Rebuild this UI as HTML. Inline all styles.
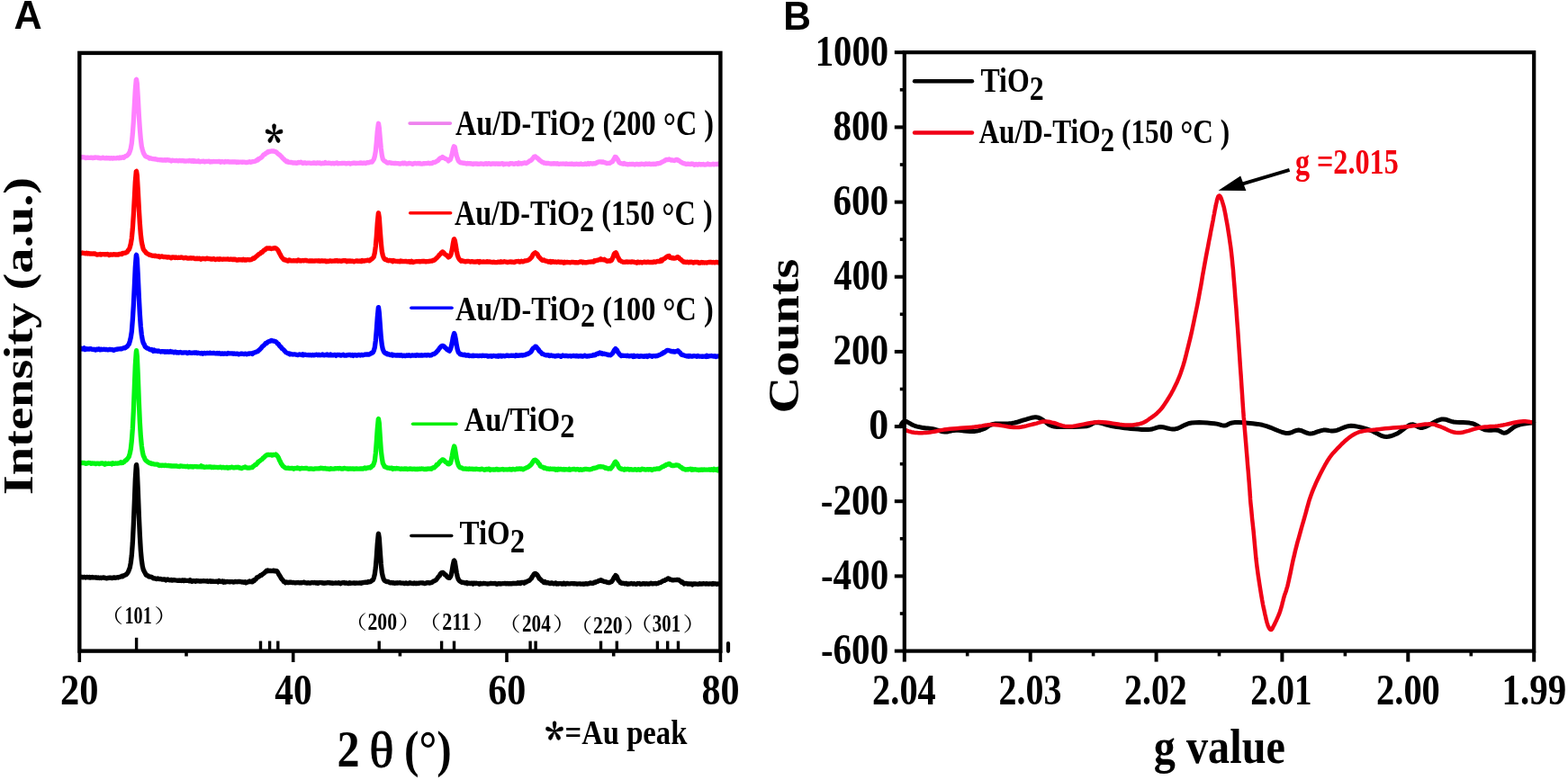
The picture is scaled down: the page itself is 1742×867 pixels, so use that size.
<!DOCTYPE html>
<html><head><meta charset="utf-8"><style>html,body{margin:0;padding:0;background:#fff;}svg{display:block;}</style></head><body>
<svg width="1742" height="867" viewBox="0 0 1742 867">
<rect x="0" y="0" width="1742" height="867" fill="#fff"/>
<path d="M88.3,174.9 L89.3,175.0 L90.3,174.9 L91.3,174.7 L92.3,174.9 L93.3,174.8 L94.3,175.1 L95.3,175.6 L96.3,175.1 L97.3,175.1 L98.3,175.4 L99.3,175.4 L100.3,175.4 L101.3,175.1 L102.3,175.4 L103.3,175.7 L104.3,175.1 L105.3,175.4 L106.3,175.0 L107.3,175.2 L108.3,175.1 L109.3,175.6 L110.3,175.3 L111.3,175.8 L112.3,175.8 L113.3,175.7 L114.3,175.1 L115.3,175.7 L116.3,175.8 L117.3,175.9 L118.3,175.4 L119.3,175.8 L120.3,175.6 L121.3,175.7 L122.3,176.2 L123.3,175.7 L124.3,175.9 L125.3,176.2 L126.3,175.7 L127.3,175.8 L128.3,175.8 L129.3,175.8 L130.3,175.3 L131.3,175.7 L132.3,175.9 L133.3,175.0 L134.3,175.6 L135.3,175.2 L136.3,174.7 L137.3,175.3 L138.3,174.6 L139.3,173.6 L140.3,173.4 L141.3,172.9 L142.3,171.7 L143.3,170.6 L144.3,168.3 L145.3,164.9 L146.3,159.2 L147.3,149.1 L148.3,135.5 L149.3,117.7 L150.3,99.9 L151.3,88.6 L151.6,88.3 L152.3,92.7 L153.3,108.6 L154.3,127.3 L155.3,142.5 L156.3,154.4 L157.3,162.6 L158.3,166.5 L159.3,169.8 L160.3,171.7 L161.3,173.3 L162.3,174.0 L163.3,174.4 L164.3,174.9 L165.3,175.3 L166.3,176.2 L167.3,175.9 L168.3,176.2 L169.3,176.6 L170.3,176.7 L171.3,176.8 L172.3,176.7 L173.3,177.2 L174.3,177.2 L175.3,177.7 L176.3,177.7 L177.3,177.6 L178.3,177.9 L179.3,177.6 L180.3,178.1 L181.3,177.9 L182.3,178.1 L183.3,177.6 L184.3,178.2 L185.3,177.6 L186.3,177.6 L187.3,178.1 L188.3,178.0 L189.3,178.4 L190.3,179.0 L191.3,178.2 L192.3,178.3 L193.3,178.5 L194.3,178.7 L195.3,178.5 L196.3,178.5 L197.3,178.8 L198.3,178.8 L199.3,178.4 L200.3,178.7 L201.3,178.8 L202.3,178.5 L203.3,178.9 L204.3,178.6 L205.3,179.2 L206.3,179.0 L207.3,179.0 L208.3,178.8 L209.3,179.0 L210.3,178.4 L211.3,178.7 L212.3,179.2 L213.3,178.5 L214.3,179.4 L215.3,178.6 L216.3,179.4 L217.3,179.0 L218.3,179.5 L219.3,179.3 L220.3,178.8 L221.3,179.7 L222.3,179.8 L223.3,179.3 L224.3,179.3 L225.3,179.4 L226.3,179.1 L227.3,179.8 L228.3,179.3 L229.3,179.5 L230.3,179.3 L231.3,179.4 L232.3,179.2 L233.3,180.0 L234.3,179.6 L235.3,179.9 L236.3,179.7 L237.3,179.5 L238.3,179.6 L239.3,179.6 L240.3,179.7 L241.3,179.6 L242.3,179.7 L243.3,179.4 L244.3,179.6 L245.3,180.3 L246.3,179.7 L247.3,179.6 L248.3,180.0 L249.3,180.3 L250.3,179.5 L251.3,179.9 L252.3,179.8 L253.3,179.5 L254.3,180.2 L255.3,180.0 L256.3,180.1 L257.3,179.8 L258.3,180.2 L259.3,179.9 L260.3,180.1 L261.3,179.8 L262.3,179.8 L263.3,180.6 L264.3,180.0 L265.3,180.3 L266.3,180.2 L267.3,180.1 L268.3,180.1 L269.3,180.4 L270.3,180.2 L271.3,180.2 L272.3,180.3 L273.3,180.6 L274.3,180.5 L275.3,180.4 L276.3,180.0 L277.3,179.7 L278.3,180.3 L279.3,180.2 L280.3,179.7 L281.3,179.7 L282.3,179.5 L283.3,179.2 L284.3,178.8 L285.3,177.9 L286.3,178.0 L286.7,176.9 L287.3,177.1 L288.3,176.3 L289.3,175.7 L290.3,175.2 L291.3,174.2 L292.3,172.6 L293.3,171.6 L294.3,171.6 L295.3,170.3 L296.3,170.0 L297.3,169.6 L297.4,168.8 L298.3,168.3 L299.3,168.6 L300.3,168.3 L301.3,168.0 L302.3,168.1 L303.3,167.8 L304.3,167.8 L305.3,168.5 L306.3,168.7 L307.3,169.1 L307.5,169.9 L308.3,170.3 L309.3,171.3 L310.3,171.8 L311.3,172.9 L312.3,173.8 L313.3,174.9 L314.3,176.2 L315.3,176.8 L316.3,178.0 L317.3,178.7 L318.3,179.8 L319.3,179.2 L320.3,180.3 L321.3,180.3 L322.3,180.5 L323.3,180.3 L324.3,180.7 L325.3,181.1 L326.3,180.9 L327.3,181.0 L328.3,180.9 L329.3,181.4 L330.3,181.1 L331.3,180.4 L332.3,180.9 L333.3,180.5 L334.3,180.1 L335.3,181.0 L336.3,181.5 L337.3,181.2 L338.3,180.8 L339.3,180.9 L340.3,181.5 L341.3,181.2 L342.3,181.2 L343.3,181.2 L344.3,181.2 L345.3,181.5 L346.3,181.4 L347.3,181.3 L348.3,180.9 L349.3,181.4 L350.3,181.1 L351.3,181.6 L352.3,180.9 L353.3,181.2 L354.3,181.3 L355.3,180.9 L356.3,181.8 L357.3,181.8 L358.3,181.2 L359.3,181.6 L360.3,181.5 L361.3,180.6 L362.3,181.4 L363.3,181.3 L364.3,181.4 L365.3,181.1 L366.3,181.3 L367.3,181.3 L368.3,181.8 L369.3,181.5 L370.3,181.4 L371.3,181.9 L372.3,181.3 L373.3,181.3 L374.3,180.9 L375.3,181.9 L376.3,181.7 L377.3,181.7 L378.3,181.7 L379.3,181.5 L380.3,181.5 L381.3,181.4 L382.3,181.4 L383.3,181.5 L384.3,181.9 L385.3,181.6 L386.3,181.5 L387.3,181.3 L388.3,181.3 L389.3,182.0 L390.3,181.6 L391.3,181.5 L392.3,181.4 L393.3,181.1 L394.3,181.4 L395.3,181.7 L396.3,181.3 L397.3,181.4 L398.3,181.3 L399.3,181.4 L400.3,180.9 L401.3,181.3 L402.3,181.1 L403.3,181.5 L404.3,181.0 L405.3,181.3 L406.3,181.6 L407.3,180.9 L408.3,180.7 L409.3,180.8 L410.3,180.6 L411.3,180.0 L412.3,180.1 L413.3,180.1 L414.3,178.6 L415.3,177.1 L416.3,173.9 L417.3,168.3 L418.3,158.1 L419.3,145.8 L420.3,138.2 L420.5,137.3 L421.3,142.2 L422.3,154.2 L423.3,165.0 L424.3,172.5 L425.3,176.9 L426.3,178.2 L427.3,179.1 L428.3,179.5 L429.3,180.3 L430.3,181.0 L431.3,181.1 L432.3,180.7 L433.3,180.8 L434.3,181.1 L435.3,181.4 L436.3,181.3 L437.3,181.5 L438.3,181.6 L439.3,181.4 L440.3,181.6 L441.3,181.7 L442.3,181.6 L443.3,181.8 L444.3,182.2 L445.3,181.9 L446.3,181.7 L447.3,181.2 L448.3,181.9 L449.3,181.2 L450.3,181.4 L451.3,182.0 L452.3,182.0 L453.3,181.8 L454.3,181.3 L455.3,181.7 L456.3,181.6 L457.3,182.0 L458.3,182.5 L459.3,181.9 L460.3,181.6 L461.3,181.5 L462.3,181.8 L463.3,181.8 L464.3,181.5 L465.3,181.9 L466.3,181.5 L467.3,182.2 L468.3,182.1 L469.3,182.1 L470.3,181.7 L471.3,181.9 L472.3,181.7 L473.3,181.6 L474.3,181.6 L475.3,181.3 L476.3,181.2 L477.3,181.8 L478.3,181.5 L479.3,181.5 L480.3,181.5 L481.3,180.5 L482.3,180.5 L483.3,180.3 L484.3,179.9 L485.3,179.0 L486.3,178.7 L487.3,177.6 L488.3,176.3 L489.3,175.6 L490.3,175.5 L491.3,175.1 L491.6,174.4 L492.3,175.4 L493.3,175.5 L494.3,176.3 L495.3,176.5 L496.3,177.2 L497.3,177.5 L498.3,178.9 L499.3,177.9 L500.3,177.5 L501.3,174.6 L502.3,171.1 L503.3,165.9 L504.3,162.8 L504.6,162.9 L505.3,163.4 L506.3,168.6 L507.3,173.2 L508.3,176.3 L509.3,178.7 L510.3,179.9 L511.3,180.6 L512.3,180.9 L513.3,181.0 L514.3,181.3 L515.3,181.2 L516.3,181.3 L517.3,181.7 L518.3,182.0 L519.3,181.4 L520.3,181.9 L521.3,181.7 L522.3,181.7 L523.3,182.2 L524.3,181.9 L525.3,182.5 L526.3,181.8 L527.3,182.2 L528.3,182.0 L529.3,181.9 L530.3,182.3 L531.3,182.1 L532.3,182.3 L533.3,182.1 L534.3,181.8 L535.3,182.1 L536.3,182.2 L537.3,182.5 L538.3,181.9 L539.3,182.2 L540.3,181.7 L541.3,182.4 L542.3,181.9 L543.3,181.7 L544.3,182.2 L545.3,182.5 L546.3,181.8 L547.3,181.9 L548.3,182.0 L549.3,181.9 L550.3,182.3 L551.3,182.0 L552.3,182.0 L553.3,182.4 L554.3,182.0 L555.3,182.4 L556.3,181.9 L557.3,181.9 L558.3,181.7 L559.3,182.8 L560.3,182.1 L561.3,182.3 L562.3,182.2 L563.3,182.2 L564.3,182.2 L565.3,182.8 L566.3,181.9 L567.3,181.7 L568.3,181.8 L569.3,181.7 L570.3,182.3 L571.3,182.3 L572.3,181.8 L573.3,181.6 L574.3,181.9 L575.3,182.4 L576.3,181.1 L577.3,182.1 L578.3,181.5 L579.3,182.1 L580.3,181.4 L581.3,181.5 L582.3,181.0 L583.3,181.0 L584.3,181.5 L585.3,181.1 L586.3,180.4 L587.3,179.8 L588.3,178.9 L589.3,178.7 L590.3,177.9 L591.3,176.8 L592.3,175.6 L593.3,174.3 L594.3,174.0 L594.7,173.9 L595.3,174.5 L596.3,175.3 L597.3,175.8 L598.3,176.8 L599.3,178.0 L600.3,178.7 L601.3,179.4 L602.3,180.2 L603.3,180.3 L604.3,181.1 L605.3,181.2 L606.3,181.5 L607.3,181.5 L608.3,181.5 L609.3,181.5 L610.3,181.8 L611.3,181.8 L612.3,182.1 L613.3,182.0 L614.3,181.7 L615.3,182.1 L616.3,181.7 L617.3,182.0 L618.3,182.1 L619.3,181.6 L620.3,182.3 L621.3,182.3 L622.3,182.2 L623.3,182.2 L624.3,182.2 L625.3,182.0 L626.3,182.2 L627.3,182.2 L628.3,182.4 L629.3,182.0 L630.3,182.4 L631.3,182.4 L632.3,182.3 L633.3,182.2 L634.3,182.5 L635.3,181.9 L636.3,182.5 L637.3,182.5 L638.3,182.5 L639.3,182.5 L640.3,182.2 L641.3,182.3 L642.3,182.6 L643.3,182.5 L644.3,182.5 L645.3,181.9 L646.3,182.6 L647.3,182.7 L648.3,182.7 L649.3,182.4 L650.3,181.9 L651.3,182.6 L652.3,182.3 L653.3,181.5 L654.3,182.4 L655.3,181.7 L656.3,181.7 L657.3,181.8 L658.3,182.2 L659.3,181.6 L660.3,181.6 L661.3,181.8 L662.3,181.4 L663.3,180.6 L664.3,180.3 L665.3,179.8 L666.3,179.8 L667.3,180.0 L667.5,180.0 L668.3,179.9 L669.3,180.3 L670.3,180.0 L671.3,180.5 L672.3,180.9 L673.3,181.1 L674.3,181.5 L675.3,181.4 L676.3,181.3 L677.3,181.4 L678.3,180.8 L679.3,180.1 L680.3,179.8 L681.3,178.1 L682.3,176.4 L683.3,174.4 L683.9,174.5 L684.3,174.7 L685.3,176.0 L686.3,177.4 L687.3,179.5 L688.3,181.0 L689.3,181.5 L690.3,181.6 L691.3,182.0 L692.3,182.3 L693.3,181.4 L694.3,182.2 L695.3,182.4 L696.3,182.5 L697.3,182.9 L698.3,182.7 L699.3,182.5 L700.3,182.5 L701.3,182.7 L702.3,182.3 L703.3,182.4 L704.3,182.7 L705.3,183.0 L706.3,182.4 L707.3,182.5 L708.3,182.5 L709.3,182.9 L710.3,182.5 L711.3,182.9 L712.3,182.2 L713.3,182.4 L714.3,182.4 L715.3,182.7 L716.3,182.8 L717.3,182.0 L718.3,182.2 L719.3,182.5 L720.3,182.2 L721.3,182.0 L722.3,182.7 L723.3,182.5 L724.3,182.5 L725.3,182.2 L726.3,182.6 L727.3,182.2 L728.3,182.5 L729.3,181.8 L730.3,181.7 L731.3,181.8 L732.3,181.3 L733.3,181.4 L734.3,180.9 L735.3,180.0 L736.3,179.8 L737.3,179.1 L738.3,178.8 L739.3,177.8 L740.3,177.3 L741.3,177.5 L742.2,177.6 L742.3,177.5 L743.3,177.0 L744.3,177.4 L745.3,178.1 L746.3,178.0 L747.3,178.0 L748.3,178.4 L749.3,178.5 L750.3,177.9 L751.3,177.4 L752.3,177.4 L752.9,178.1 L753.3,177.8 L754.3,178.5 L755.3,179.3 L756.3,180.1 L757.3,180.5 L758.3,181.3 L759.3,181.3 L760.3,181.8 L761.3,181.8 L762.3,182.5 L763.3,182.3 L764.3,182.1 L765.3,182.3 L766.3,182.4 L767.3,182.7 L768.3,182.0 L769.3,182.2 L770.3,182.4 L771.3,183.3 L772.3,182.8 L773.3,182.5 L774.3,182.8 L775.3,183.2 L776.3,182.5 L777.3,182.5 L778.3,183.0 L779.3,182.7 L780.3,182.8 L781.3,182.5 L782.3,183.2 L783.3,183.1 L784.3,182.8 L785.3,182.8 L786.3,182.0 L787.3,182.8 L788.3,182.6 L789.3,182.8 L790.3,182.8 L791.3,182.5 L792.3,182.1 L793.3,182.8 L794.3,182.4 L795.3,182.6 L796.3,182.5 L797.3,182.6 L798.3,182.0 L799.3,183.0 L800.3,182.7" fill="none" stroke="#FF80FF" stroke-width="5.3" stroke-linejoin="round" stroke-linecap="butt"/>
<path d="M88.3,281.7 L89.3,282.0 L90.3,281.5 L91.3,281.0 L92.3,281.3 L93.3,281.3 L94.3,281.6 L95.3,281.8 L96.3,281.2 L97.3,282.0 L98.3,281.5 L99.3,282.1 L100.3,282.0 L101.3,282.0 L102.3,282.1 L103.3,282.0 L104.3,282.1 L105.3,281.8 L106.3,282.4 L107.3,283.0 L108.3,283.0 L109.3,282.9 L110.3,282.8 L111.3,282.4 L112.3,283.1 L113.3,282.6 L114.3,282.7 L115.3,282.6 L116.3,282.8 L117.3,282.7 L118.3,282.8 L119.3,282.5 L120.3,282.8 L121.3,283.6 L122.3,282.9 L123.3,282.8 L124.3,283.1 L125.3,283.1 L126.3,282.6 L127.3,282.8 L128.3,283.1 L129.3,282.9 L130.3,282.8 L131.3,283.2 L132.3,282.4 L133.3,282.5 L134.3,282.2 L135.3,282.6 L136.3,281.4 L137.3,281.5 L138.3,281.2 L139.3,281.2 L140.3,280.6 L141.3,280.1 L142.3,278.3 L143.3,277.5 L144.3,274.9 L145.3,271.0 L146.3,265.1 L147.3,254.6 L148.3,239.6 L149.3,221.4 L150.3,201.9 L151.3,190.6 L151.6,190.4 L152.3,194.9 L153.3,211.9 L154.3,231.1 L155.3,247.7 L156.3,260.4 L157.3,268.6 L158.3,273.5 L159.3,277.1 L160.3,278.6 L161.3,279.5 L162.3,281.2 L163.3,281.7 L164.3,282.4 L165.3,282.8 L166.3,283.4 L167.3,283.5 L168.3,284.1 L169.3,284.1 L170.3,284.3 L171.3,284.5 L172.3,284.1 L173.3,284.7 L174.3,284.8 L175.3,285.0 L176.3,284.7 L177.3,285.7 L178.3,285.3 L179.3,285.0 L180.3,285.0 L181.3,285.5 L182.3,285.6 L183.3,285.5 L184.3,285.8 L185.3,285.6 L186.3,286.1 L187.3,285.7 L188.3,286.0 L189.3,286.4 L190.3,286.9 L191.3,285.9 L192.3,286.1 L193.3,286.0 L194.3,286.6 L195.3,286.0 L196.3,286.3 L197.3,286.5 L198.3,286.2 L199.3,286.3 L200.3,286.4 L201.3,286.0 L202.3,286.2 L203.3,286.6 L204.3,286.8 L205.3,286.7 L206.3,286.3 L207.3,286.7 L208.3,287.1 L209.3,287.1 L210.3,287.0 L211.3,286.7 L212.3,287.2 L213.3,286.9 L214.3,286.8 L215.3,286.9 L216.3,287.6 L217.3,287.3 L218.3,287.6 L219.3,287.1 L220.3,287.6 L221.3,287.2 L222.3,287.3 L223.3,288.2 L224.3,287.7 L225.3,287.3 L226.3,287.5 L227.3,287.6 L228.3,287.9 L229.3,287.4 L230.3,287.1 L231.3,287.6 L232.3,287.7 L233.3,287.7 L234.3,288.1 L235.3,287.9 L236.3,288.0 L237.3,287.5 L238.3,288.1 L239.3,288.5 L240.3,288.1 L241.3,288.0 L242.3,288.0 L243.3,288.5 L244.3,287.7 L245.3,288.0 L246.3,288.2 L247.3,288.3 L248.3,288.0 L249.3,288.2 L250.3,288.1 L251.3,288.2 L252.3,288.2 L253.3,287.9 L254.3,288.3 L255.3,288.5 L256.3,288.0 L257.3,288.3 L258.3,288.6 L259.3,288.1 L260.3,288.5 L261.3,288.1 L262.3,288.8 L263.3,289.2 L264.3,289.1 L265.3,288.4 L266.3,288.8 L267.3,288.6 L268.3,288.6 L269.3,289.1 L270.3,288.2 L271.3,289.0 L272.3,288.6 L273.3,289.1 L274.3,288.8 L275.3,288.5 L276.3,288.8 L277.3,288.9 L278.3,288.6 L279.3,288.5 L280.3,287.9 L281.3,287.0 L282.3,287.3 L283.3,286.4 L284.3,285.4 L285.3,284.5 L286.3,283.9 L286.7,283.2 L287.3,282.7 L288.3,282.1 L289.3,281.9 L290.3,280.4 L291.3,280.5 L292.3,279.1 L293.3,278.1 L294.3,277.9 L295.3,276.8 L296.3,275.9 L297.3,275.9 L297.4,276.2 L298.3,276.2 L299.3,275.8 L300.3,276.2 L301.3,276.5 L302.3,276.1 L303.3,276.2 L304.3,275.9 L305.3,275.7 L306.3,275.9 L307.3,276.6 L307.5,276.7 L308.3,277.4 L309.3,278.9 L310.3,281.2 L311.3,282.8 L312.3,284.8 L313.3,286.4 L314.3,287.4 L315.3,288.8 L316.3,288.5 L317.3,289.3 L318.3,289.2 L319.3,290.0 L320.3,290.0 L321.3,288.9 L322.3,289.3 L323.3,289.8 L324.3,289.8 L325.3,289.8 L326.3,289.6 L327.3,289.8 L328.3,289.8 L329.3,289.6 L330.3,290.0 L331.3,289.0 L332.3,289.9 L333.3,289.4 L334.3,290.0 L335.3,289.7 L336.3,289.5 L337.3,289.9 L338.3,289.5 L339.3,289.5 L340.3,289.3 L341.3,289.8 L342.3,290.0 L343.3,290.2 L344.3,289.8 L345.3,290.2 L346.3,289.9 L347.3,289.9 L348.3,290.1 L349.3,290.2 L350.3,289.8 L351.3,289.9 L352.3,289.9 L353.3,290.0 L354.3,289.7 L355.3,290.3 L356.3,289.9 L357.3,290.2 L358.3,289.8 L359.3,290.1 L360.3,290.2 L361.3,289.9 L362.3,290.7 L363.3,290.2 L364.3,290.6 L365.3,290.4 L366.3,289.9 L367.3,290.0 L368.3,290.3 L369.3,290.2 L370.3,290.2 L371.3,290.1 L372.3,289.6 L373.3,290.1 L374.3,289.5 L375.3,290.3 L376.3,290.0 L377.3,290.0 L378.3,290.1 L379.3,290.3 L380.3,289.8 L381.3,289.7 L382.3,289.9 L383.3,289.6 L384.3,289.9 L385.3,290.7 L386.3,289.9 L387.3,290.4 L388.3,289.8 L389.3,290.3 L390.3,290.1 L391.3,290.2 L392.3,290.4 L393.3,290.8 L394.3,290.3 L395.3,290.2 L396.3,289.9 L397.3,290.4 L398.3,290.1 L399.3,290.4 L400.3,290.1 L401.3,290.6 L402.3,289.5 L403.3,289.9 L404.3,290.2 L405.3,289.8 L406.3,289.6 L407.3,289.6 L408.3,289.1 L409.3,289.4 L410.3,289.9 L411.3,289.2 L412.3,288.1 L413.3,287.6 L414.3,286.8 L415.3,285.4 L416.3,281.2 L417.3,274.1 L418.3,262.7 L419.3,247.8 L420.3,237.4 L420.5,236.8 L421.3,241.9 L422.3,256.5 L423.3,269.6 L424.3,279.4 L425.3,283.9 L426.3,286.6 L427.3,288.2 L428.3,288.7 L429.3,288.5 L430.3,289.5 L431.3,289.8 L432.3,289.4 L433.3,289.5 L434.3,289.9 L435.3,289.6 L436.3,290.6 L437.3,289.5 L438.3,290.0 L439.3,290.3 L440.3,290.3 L441.3,290.5 L442.3,290.5 L443.3,290.4 L444.3,290.9 L445.3,289.9 L446.3,290.6 L447.3,290.4 L448.3,290.7 L449.3,290.7 L450.3,290.4 L451.3,290.5 L452.3,290.9 L453.3,290.8 L454.3,290.5 L455.3,291.3 L456.3,291.4 L457.3,290.3 L458.3,290.8 L459.3,291.5 L460.3,291.0 L461.3,290.8 L462.3,290.7 L463.3,290.6 L464.3,290.7 L465.3,290.5 L466.3,290.9 L467.3,290.6 L468.3,290.6 L469.3,290.3 L470.3,290.6 L471.3,290.4 L472.3,290.6 L473.3,290.9 L474.3,290.7 L475.3,290.6 L476.3,290.5 L477.3,290.4 L478.3,290.2 L479.3,290.0 L480.3,290.1 L481.3,289.2 L482.3,289.4 L483.3,288.5 L484.3,287.5 L485.3,286.6 L486.3,285.5 L487.3,284.5 L488.3,283.0 L489.3,282.5 L490.3,281.0 L491.3,280.1 L491.6,280.5 L492.3,280.2 L493.3,281.3 L494.3,282.5 L495.3,283.4 L496.3,283.8 L497.3,284.8 L498.3,286.0 L499.3,285.5 L500.3,284.2 L501.3,281.7 L502.3,277.3 L503.3,270.8 L504.3,266.0 L504.6,265.8 L505.3,267.3 L506.3,272.8 L507.3,278.9 L508.3,283.9 L509.3,286.5 L510.3,288.3 L511.3,289.2 L512.3,290.3 L513.3,289.7 L514.3,290.1 L515.3,290.3 L516.3,290.6 L517.3,290.9 L518.3,290.5 L519.3,290.5 L520.3,290.3 L521.3,290.5 L522.3,291.0 L523.3,290.9 L524.3,290.6 L525.3,290.9 L526.3,291.0 L527.3,291.2 L528.3,290.9 L529.3,291.0 L530.3,290.5 L531.3,290.7 L532.3,291.6 L533.3,290.5 L534.3,291.0 L535.3,291.2 L536.3,291.0 L537.3,290.9 L538.3,291.2 L539.3,291.2 L540.3,291.2 L541.3,290.6 L542.3,291.2 L543.3,291.0 L544.3,291.0 L545.3,291.3 L546.3,291.4 L547.3,291.5 L548.3,291.1 L549.3,291.5 L550.3,291.6 L551.3,291.6 L552.3,291.7 L553.3,291.2 L554.3,291.2 L555.3,291.5 L556.3,290.8 L557.3,291.3 L558.3,291.1 L559.3,291.1 L560.3,290.7 L561.3,291.0 L562.3,291.2 L563.3,291.5 L564.3,291.5 L565.3,291.2 L566.3,291.1 L567.3,290.9 L568.3,291.3 L569.3,291.1 L570.3,291.3 L571.3,291.6 L572.3,291.1 L573.3,290.6 L574.3,290.7 L575.3,290.5 L576.3,290.5 L577.3,291.2 L578.3,290.8 L579.3,290.2 L580.3,290.8 L581.3,290.9 L582.3,290.2 L583.3,289.9 L584.3,289.8 L585.3,289.7 L586.3,289.3 L587.3,289.0 L588.3,288.2 L589.3,287.3 L590.3,286.2 L591.3,284.7 L592.3,282.6 L593.3,281.7 L594.3,281.1 L594.7,280.8 L595.3,281.4 L596.3,281.9 L597.3,283.0 L598.3,285.2 L599.3,286.2 L600.3,287.2 L601.3,288.3 L602.3,289.1 L603.3,289.4 L604.3,288.9 L605.3,289.8 L606.3,290.1 L607.3,290.1 L608.3,290.6 L609.3,291.1 L610.3,290.6 L611.3,290.5 L612.3,291.6 L613.3,290.9 L614.3,290.7 L615.3,291.2 L616.3,291.3 L617.3,291.0 L618.3,291.5 L619.3,291.1 L620.3,291.0 L621.3,291.4 L622.3,291.6 L623.3,291.1 L624.3,291.5 L625.3,291.3 L626.3,292.2 L627.3,291.2 L628.3,291.8 L629.3,291.4 L630.3,291.4 L631.3,291.7 L632.3,291.7 L633.3,291.8 L634.3,291.6 L635.3,291.3 L636.3,291.3 L637.3,291.6 L638.3,291.6 L639.3,291.9 L640.3,291.6 L641.3,291.8 L642.3,291.9 L643.3,291.5 L644.3,291.0 L645.3,291.1 L646.3,291.0 L647.3,291.9 L648.3,291.2 L649.3,291.8 L650.3,291.6 L651.3,291.9 L652.3,291.7 L653.3,291.3 L654.3,291.2 L655.3,291.2 L656.3,291.2 L657.3,290.8 L658.3,290.8 L659.3,291.1 L660.3,289.8 L661.3,290.1 L662.3,289.4 L663.3,289.4 L664.3,289.2 L665.3,288.6 L666.3,288.7 L667.3,287.8 L667.5,288.7 L668.3,288.2 L669.3,288.7 L670.3,288.8 L671.3,288.3 L672.3,289.1 L673.3,289.7 L674.3,290.3 L675.3,290.1 L676.3,290.2 L677.3,289.6 L678.3,290.1 L679.3,289.5 L680.3,287.5 L681.3,285.4 L682.3,282.4 L683.3,281.1 L683.9,281.3 L684.3,280.9 L685.3,283.0 L686.3,285.5 L687.3,287.2 L688.3,289.5 L689.3,289.7 L690.3,290.5 L691.3,290.9 L692.3,291.3 L693.3,291.3 L694.3,291.4 L695.3,291.1 L696.3,291.0 L697.3,291.4 L698.3,291.2 L699.3,291.1 L700.3,291.1 L701.3,291.4 L702.3,291.0 L703.3,291.1 L704.3,291.1 L705.3,291.6 L706.3,291.7 L707.3,292.2 L708.3,291.1 L709.3,291.4 L710.3,291.9 L711.3,291.5 L712.3,291.5 L713.3,292.1 L714.3,291.5 L715.3,291.2 L716.3,291.2 L717.3,291.7 L718.3,291.6 L719.3,291.1 L720.3,291.2 L721.3,291.7 L722.3,291.7 L723.3,291.3 L724.3,291.6 L725.3,291.6 L726.3,290.8 L727.3,291.2 L728.3,291.3 L729.3,290.9 L730.3,290.3 L731.3,290.7 L732.3,290.7 L733.3,290.6 L734.3,289.0 L735.3,289.9 L736.3,288.1 L737.3,288.0 L738.3,287.4 L739.3,286.6 L740.3,285.8 L741.3,285.0 L742.2,285.3 L742.3,284.9 L743.3,284.5 L744.3,286.4 L745.3,286.2 L746.3,286.9 L747.3,286.4 L748.3,287.2 L749.3,287.2 L750.3,287.0 L751.3,286.3 L752.3,285.8 L752.9,286.2 L753.3,285.8 L754.3,286.5 L755.3,287.8 L756.3,288.3 L757.3,289.4 L758.3,290.0 L759.3,291.1 L760.3,291.3 L761.3,291.1 L762.3,291.6 L763.3,291.1 L764.3,291.3 L765.3,291.8 L766.3,291.2 L767.3,291.5 L768.3,291.2 L769.3,291.6 L770.3,292.1 L771.3,291.4 L772.3,291.7 L773.3,291.4 L774.3,291.3 L775.3,291.3 L776.3,292.2 L777.3,292.4 L778.3,291.9 L779.3,291.5 L780.3,292.0 L781.3,291.7 L782.3,292.0 L783.3,291.9 L784.3,291.9 L785.3,292.0 L786.3,291.6 L787.3,291.7 L788.3,291.3 L789.3,291.7 L790.3,291.4 L791.3,291.8 L792.3,291.5 L793.3,291.8 L794.3,291.9 L795.3,291.4 L796.3,291.6 L797.3,291.5 L798.3,292.0 L799.3,292.3 L800.3,292.1" fill="none" stroke="#FF0000" stroke-width="5.3" stroke-linejoin="round" stroke-linecap="butt"/>
<path d="M88.3,387.4 L89.3,388.0 L90.3,387.2 L91.3,388.1 L92.3,387.5 L93.3,386.9 L94.3,388.6 L95.3,388.3 L96.3,387.6 L97.3,388.0 L98.3,387.9 L99.3,388.1 L100.3,387.6 L101.3,387.9 L102.3,388.3 L103.3,388.3 L104.3,388.6 L105.3,388.3 L106.3,389.0 L107.3,388.1 L108.3,388.5 L109.3,387.8 L110.3,388.1 L111.3,388.9 L112.3,388.2 L113.3,388.7 L114.3,388.5 L115.3,388.2 L116.3,388.5 L117.3,388.4 L118.3,388.5 L119.3,388.8 L120.3,388.8 L121.3,388.5 L122.3,388.4 L123.3,388.7 L124.3,388.6 L125.3,388.9 L126.3,389.3 L127.3,388.8 L128.3,388.5 L129.3,388.4 L130.3,388.1 L131.3,388.0 L132.3,387.8 L133.3,387.9 L134.3,387.7 L135.3,387.8 L136.3,387.2 L137.3,387.0 L138.3,386.3 L139.3,386.7 L140.3,385.7 L141.3,385.2 L142.3,383.8 L143.3,382.4 L144.3,379.2 L145.3,375.2 L146.3,368.6 L147.3,356.0 L148.3,340.1 L149.3,319.1 L150.3,296.9 L151.3,283.9 L151.6,283.4 L152.3,288.0 L153.3,307.2 L154.3,329.2 L155.3,348.5 L156.3,362.7 L157.3,372.1 L158.3,377.9 L159.3,381.4 L160.3,383.0 L161.3,385.5 L162.3,386.3 L163.3,386.9 L164.3,387.2 L165.3,387.8 L166.3,388.4 L167.3,388.8 L168.3,388.4 L169.3,389.4 L170.3,390.3 L171.3,389.0 L172.3,390.1 L173.3,390.1 L174.3,390.0 L175.3,390.6 L176.3,390.0 L177.3,390.5 L178.3,391.0 L179.3,390.6 L180.3,390.6 L181.3,390.8 L182.3,390.7 L183.3,391.4 L184.3,390.7 L185.3,391.3 L186.3,390.7 L187.3,391.4 L188.3,391.2 L189.3,390.5 L190.3,391.3 L191.3,391.0 L192.3,391.3 L193.3,391.9 L194.3,391.2 L195.3,391.2 L196.3,392.0 L197.3,391.7 L198.3,392.1 L199.3,391.8 L200.3,391.5 L201.3,391.8 L202.3,392.2 L203.3,392.1 L204.3,391.9 L205.3,391.9 L206.3,391.9 L207.3,391.8 L208.3,392.6 L209.3,392.1 L210.3,391.7 L211.3,392.0 L212.3,392.4 L213.3,392.4 L214.3,392.2 L215.3,392.0 L216.3,392.3 L217.3,391.8 L218.3,391.9 L219.3,392.6 L220.3,392.2 L221.3,392.5 L222.3,392.8 L223.3,392.6 L224.3,392.5 L225.3,393.2 L226.3,392.7 L227.3,392.4 L228.3,392.8 L229.3,392.7 L230.3,392.4 L231.3,392.7 L232.3,392.6 L233.3,392.1 L234.3,392.7 L235.3,392.7 L236.3,392.6 L237.3,392.3 L238.3,392.7 L239.3,392.8 L240.3,392.9 L241.3,392.5 L242.3,393.1 L243.3,392.5 L244.3,392.9 L245.3,393.4 L246.3,392.8 L247.3,392.9 L248.3,393.4 L249.3,392.9 L250.3,393.0 L251.3,393.2 L252.3,393.4 L253.3,392.5 L254.3,392.9 L255.3,392.9 L256.3,392.9 L257.3,392.9 L258.3,393.0 L259.3,393.3 L260.3,393.0 L261.3,393.3 L262.3,393.4 L263.3,393.1 L264.3,393.4 L265.3,393.9 L266.3,393.5 L267.3,393.2 L268.3,393.4 L269.3,393.1 L270.3,393.5 L271.3,393.7 L272.3,393.2 L273.3,393.4 L274.3,393.8 L275.3,393.2 L276.3,393.4 L277.3,392.9 L278.3,392.9 L279.3,392.9 L280.3,393.5 L281.3,392.4 L282.3,392.1 L283.3,391.7 L284.3,391.3 L285.3,391.0 L286.3,390.2 L286.7,390.4 L287.3,389.4 L288.3,389.0 L289.3,387.7 L290.3,386.8 L291.3,385.2 L292.3,384.6 L293.3,383.7 L294.3,382.7 L295.3,381.3 L296.3,381.4 L297.3,380.3 L297.4,380.2 L298.3,379.8 L299.3,379.4 L300.3,379.2 L301.3,378.5 L302.3,378.6 L303.3,379.0 L304.3,379.2 L305.3,379.4 L306.3,379.8 L307.3,380.4 L307.5,380.8 L308.3,381.9 L309.3,382.2 L310.3,384.1 L311.3,385.1 L312.3,385.9 L313.3,387.5 L314.3,388.0 L315.3,389.0 L316.3,390.1 L317.3,391.3 L318.3,392.0 L319.3,392.5 L320.3,393.1 L321.3,392.8 L322.3,393.9 L323.3,393.5 L324.3,393.8 L325.3,394.0 L326.3,393.8 L327.3,393.8 L328.3,394.0 L329.3,394.3 L330.3,394.5 L331.3,394.5 L332.3,394.0 L333.3,394.1 L334.3,394.1 L335.3,394.5 L336.3,393.8 L337.3,394.8 L338.3,394.2 L339.3,394.2 L340.3,394.5 L341.3,394.7 L342.3,394.5 L343.3,394.8 L344.3,394.5 L345.3,394.8 L346.3,394.9 L347.3,394.5 L348.3,394.9 L349.3,394.6 L350.3,394.5 L351.3,394.2 L352.3,394.4 L353.3,394.8 L354.3,394.2 L355.3,394.8 L356.3,394.7 L357.3,394.7 L358.3,393.9 L359.3,394.6 L360.3,394.8 L361.3,394.4 L362.3,394.6 L363.3,393.9 L364.3,394.8 L365.3,394.4 L366.3,394.9 L367.3,394.1 L368.3,394.9 L369.3,394.6 L370.3,394.9 L371.3,394.4 L372.3,394.5 L373.3,395.4 L374.3,394.5 L375.3,394.5 L376.3,394.6 L377.3,394.4 L378.3,395.1 L379.3,395.2 L380.3,394.5 L381.3,394.2 L382.3,395.1 L383.3,395.1 L384.3,395.0 L385.3,395.1 L386.3,394.5 L387.3,394.7 L388.3,394.3 L389.3,394.3 L390.3,395.0 L391.3,394.5 L392.3,395.4 L393.3,394.7 L394.3,394.5 L395.3,394.9 L396.3,395.2 L397.3,394.8 L398.3,394.3 L399.3,394.7 L400.3,395.0 L401.3,394.4 L402.3,394.3 L403.3,394.8 L404.3,394.5 L405.3,394.0 L406.3,394.2 L407.3,393.9 L408.3,394.1 L409.3,393.9 L410.3,394.0 L411.3,393.5 L412.3,392.5 L413.3,392.5 L414.3,391.7 L415.3,389.8 L416.3,386.3 L417.3,378.8 L418.3,366.9 L419.3,352.8 L420.3,342.3 L420.5,341.6 L421.3,347.7 L422.3,361.4 L423.3,374.9 L424.3,383.4 L425.3,388.2 L426.3,390.6 L427.3,392.0 L428.3,392.9 L429.3,392.6 L430.3,393.9 L431.3,393.5 L432.3,393.8 L433.3,394.5 L434.3,394.4 L435.3,394.0 L436.3,395.1 L437.3,394.4 L438.3,394.8 L439.3,394.8 L440.3,395.2 L441.3,394.7 L442.3,395.2 L443.3,394.7 L444.3,395.3 L445.3,394.7 L446.3,394.9 L447.3,395.6 L448.3,395.1 L449.3,395.1 L450.3,395.7 L451.3,395.2 L452.3,394.8 L453.3,395.3 L454.3,394.7 L455.3,395.4 L456.3,395.5 L457.3,394.9 L458.3,394.9 L459.3,395.2 L460.3,395.1 L461.3,394.8 L462.3,395.3 L463.3,394.5 L464.3,395.0 L465.3,395.0 L466.3,395.0 L467.3,395.2 L468.3,394.7 L469.3,395.2 L470.3,395.0 L471.3,394.8 L472.3,394.6 L473.3,394.6 L474.3,395.0 L475.3,394.5 L476.3,394.8 L477.3,395.0 L478.3,394.9 L479.3,394.8 L480.3,394.0 L481.3,393.4 L482.3,393.6 L483.3,392.7 L484.3,392.1 L485.3,390.8 L486.3,389.9 L487.3,388.5 L488.3,387.2 L489.3,385.9 L490.3,384.9 L491.3,384.4 L491.6,384.3 L492.3,384.6 L493.3,384.8 L494.3,386.4 L495.3,386.9 L496.3,388.3 L497.3,388.9 L498.3,389.5 L499.3,390.2 L500.3,388.4 L501.3,385.4 L502.3,380.9 L503.3,375.0 L504.3,371.4 L504.6,370.5 L505.3,372.2 L506.3,377.3 L507.3,383.9 L508.3,388.6 L509.3,391.7 L510.3,392.5 L511.3,393.7 L512.3,394.1 L513.3,394.0 L514.3,394.5 L515.3,394.6 L516.3,394.1 L517.3,395.1 L518.3,395.1 L519.3,394.9 L520.3,394.7 L521.3,395.6 L522.3,395.3 L523.3,395.5 L524.3,395.7 L525.3,395.1 L526.3,395.6 L527.3,395.3 L528.3,395.3 L529.3,395.4 L530.3,395.4 L531.3,395.7 L532.3,395.5 L533.3,395.4 L534.3,395.4 L535.3,395.6 L536.3,395.2 L537.3,395.3 L538.3,395.5 L539.3,395.3 L540.3,395.5 L541.3,395.3 L542.3,396.1 L543.3,395.9 L544.3,395.7 L545.3,395.5 L546.3,396.2 L547.3,395.6 L548.3,395.5 L549.3,395.6 L550.3,395.6 L551.3,396.0 L552.3,395.5 L553.3,396.2 L554.3,395.3 L555.3,395.8 L556.3,395.2 L557.3,396.1 L558.3,395.4 L559.3,395.5 L560.3,395.8 L561.3,395.9 L562.3,395.2 L563.3,395.4 L564.3,395.1 L565.3,395.5 L566.3,395.4 L567.3,395.4 L568.3,395.2 L569.3,395.3 L570.3,395.2 L571.3,395.5 L572.3,395.8 L573.3,394.7 L574.3,395.3 L575.3,395.1 L576.3,395.3 L577.3,394.9 L578.3,395.0 L579.3,394.7 L580.3,395.1 L581.3,394.8 L582.3,394.6 L583.3,394.5 L584.3,394.1 L585.3,393.4 L586.3,393.6 L587.3,393.0 L588.3,392.2 L589.3,391.6 L590.3,390.5 L591.3,388.5 L592.3,387.2 L593.3,386.6 L594.3,385.9 L594.7,385.1 L595.3,385.1 L596.3,386.2 L597.3,387.5 L598.3,388.6 L599.3,390.4 L600.3,391.1 L601.3,392.0 L602.3,393.3 L603.3,393.4 L604.3,394.0 L605.3,394.5 L606.3,394.8 L607.3,394.6 L608.3,394.9 L609.3,394.7 L610.3,395.6 L611.3,395.4 L612.3,394.9 L613.3,395.3 L614.3,395.6 L615.3,395.5 L616.3,396.0 L617.3,395.9 L618.3,395.3 L619.3,395.5 L620.3,395.2 L621.3,395.6 L622.3,395.6 L623.3,396.4 L624.3,395.7 L625.3,395.0 L626.3,395.5 L627.3,395.7 L628.3,395.3 L629.3,395.4 L630.3,395.6 L631.3,395.8 L632.3,395.7 L633.3,395.5 L634.3,396.0 L635.3,395.6 L636.3,395.6 L637.3,395.3 L638.3,395.5 L639.3,395.9 L640.3,395.3 L641.3,395.7 L642.3,396.0 L643.3,395.6 L644.3,395.8 L645.3,395.4 L646.3,396.1 L647.3,396.1 L648.3,395.8 L649.3,395.2 L650.3,395.4 L651.3,396.0 L652.3,396.2 L653.3,395.7 L654.3,395.9 L655.3,395.3 L656.3,395.3 L657.3,395.3 L658.3,395.2 L659.3,394.4 L660.3,394.9 L661.3,394.7 L662.3,393.6 L663.3,393.2 L664.3,393.4 L665.3,392.8 L666.3,392.0 L667.3,392.9 L667.5,392.7 L668.3,392.5 L669.3,393.5 L670.3,393.1 L671.3,393.2 L672.3,393.7 L673.3,393.7 L674.3,394.0 L675.3,394.6 L676.3,394.4 L677.3,394.4 L678.3,394.8 L679.3,394.0 L680.3,393.0 L681.3,391.4 L682.3,389.5 L683.3,388.3 L683.9,387.5 L684.3,388.3 L685.3,388.9 L686.3,391.1 L687.3,392.4 L688.3,393.9 L689.3,394.8 L690.3,395.5 L691.3,395.1 L692.3,395.4 L693.3,395.4 L694.3,395.4 L695.3,395.3 L696.3,395.7 L697.3,395.2 L698.3,395.8 L699.3,395.8 L700.3,395.6 L701.3,395.5 L702.3,395.4 L703.3,396.4 L704.3,395.4 L705.3,396.3 L706.3,396.0 L707.3,395.7 L708.3,395.5 L709.3,396.1 L710.3,396.4 L711.3,395.6 L712.3,395.7 L713.3,396.1 L714.3,395.9 L715.3,396.4 L716.3,395.6 L717.3,396.0 L718.3,395.4 L719.3,396.4 L720.3,395.6 L721.3,395.1 L722.3,395.7 L723.3,395.7 L724.3,396.3 L725.3,395.6 L726.3,395.6 L727.3,395.7 L728.3,395.9 L729.3,395.3 L730.3,395.5 L731.3,395.1 L732.3,394.6 L733.3,394.3 L734.3,393.9 L735.3,393.0 L736.3,393.0 L737.3,391.6 L738.3,391.6 L739.3,390.8 L740.3,389.9 L741.3,389.3 L742.2,389.3 L742.3,389.5 L743.3,389.7 L744.3,389.8 L745.3,390.5 L746.3,390.4 L747.3,390.9 L748.3,390.5 L749.3,391.2 L750.3,390.8 L751.3,390.4 L752.3,390.7 L752.9,390.7 L753.3,389.8 L754.3,391.2 L755.3,391.6 L756.3,393.2 L757.3,394.4 L758.3,394.1 L759.3,394.8 L760.3,395.0 L761.3,395.5 L762.3,395.7 L763.3,396.0 L764.3,395.4 L765.3,396.2 L766.3,395.5 L767.3,395.9 L768.3,396.2 L769.3,396.1 L770.3,395.6 L771.3,395.7 L772.3,395.8 L773.3,395.9 L774.3,396.3 L775.3,395.5 L776.3,396.1 L777.3,396.1 L778.3,396.1 L779.3,396.1 L780.3,396.4 L781.3,396.1 L782.3,396.2 L783.3,396.2 L784.3,396.5 L785.3,395.4 L786.3,396.4 L787.3,395.9 L788.3,395.9 L789.3,395.7 L790.3,395.5 L791.3,395.9 L792.3,395.8 L793.3,396.2 L794.3,395.6 L795.3,396.5 L796.3,396.1 L797.3,396.0 L798.3,395.8 L799.3,395.8 L800.3,395.7" fill="none" stroke="#0000FF" stroke-width="5.3" stroke-linejoin="round" stroke-linecap="butt"/>
<path d="M88.3,514.4 L89.3,514.7 L90.3,514.6 L91.3,514.3 L92.3,514.7 L93.3,514.5 L94.3,514.9 L95.3,515.4 L96.3,515.1 L97.3,514.9 L98.3,514.5 L99.3,514.6 L100.3,514.6 L101.3,515.3 L102.3,514.9 L103.3,515.2 L104.3,515.0 L105.3,515.2 L106.3,515.7 L107.3,515.1 L108.3,515.2 L109.3,515.1 L110.3,515.6 L111.3,515.1 L112.3,515.0 L113.3,515.0 L114.3,515.0 L115.3,515.6 L116.3,516.2 L117.3,515.1 L118.3,515.7 L119.3,515.5 L120.3,515.1 L121.3,515.3 L122.3,515.3 L123.3,515.2 L124.3,515.9 L125.3,514.7 L126.3,515.4 L127.3,515.3 L128.3,515.0 L129.3,515.1 L130.3,515.2 L131.3,514.9 L132.3,514.8 L133.3,514.7 L134.3,513.7 L135.3,514.5 L136.3,514.4 L137.3,513.6 L138.3,513.2 L139.3,511.8 L140.3,511.5 L141.3,510.3 L142.3,509.0 L143.3,507.5 L144.3,503.9 L145.3,499.0 L146.3,489.9 L147.3,476.9 L148.3,457.3 L149.3,431.9 L150.3,406.1 L151.3,391.4 L151.6,389.7 L152.3,395.9 L153.3,418.2 L154.3,445.3 L155.3,468.4 L156.3,484.6 L157.3,495.3 L158.3,502.1 L159.3,506.6 L160.3,508.5 L161.3,510.9 L162.3,512.1 L163.3,512.7 L164.3,513.6 L165.3,514.2 L166.3,514.9 L167.3,514.6 L168.3,515.6 L169.3,515.4 L170.3,515.6 L171.3,516.0 L172.3,516.2 L173.3,516.1 L174.3,516.1 L175.3,516.4 L176.3,517.2 L177.3,517.5 L178.3,517.2 L179.3,517.5 L180.3,517.1 L181.3,517.3 L182.3,517.5 L183.3,517.1 L184.3,517.2 L185.3,517.6 L186.3,517.6 L187.3,517.4 L188.3,517.9 L189.3,517.7 L190.3,518.2 L191.3,517.9 L192.3,517.9 L193.3,518.0 L194.3,518.0 L195.3,517.9 L196.3,518.0 L197.3,518.4 L198.3,518.4 L199.3,518.6 L200.3,517.8 L201.3,518.2 L202.3,518.2 L203.3,518.4 L204.3,518.3 L205.3,518.3 L206.3,518.7 L207.3,518.6 L208.3,518.2 L209.3,519.0 L210.3,518.9 L211.3,518.5 L212.3,518.9 L213.3,518.5 L214.3,519.1 L215.3,518.7 L216.3,518.5 L217.3,518.7 L218.3,518.6 L219.3,518.9 L220.3,518.9 L221.3,518.9 L222.3,518.8 L223.3,517.9 L224.3,519.0 L225.3,518.4 L226.3,519.1 L227.3,519.4 L228.3,519.2 L229.3,519.0 L230.3,519.1 L231.3,519.1 L232.3,519.0 L233.3,519.0 L234.3,518.9 L235.3,519.6 L236.3,519.2 L237.3,519.6 L238.3,519.2 L239.3,519.3 L240.3,519.3 L241.3,519.5 L242.3,519.6 L243.3,519.5 L244.3,519.2 L245.3,519.2 L246.3,519.9 L247.3,519.4 L248.3,519.4 L249.3,519.9 L250.3,519.8 L251.3,519.7 L252.3,519.4 L253.3,520.3 L254.3,519.7 L255.3,519.8 L256.3,519.6 L257.3,519.2 L258.3,519.3 L259.3,519.8 L260.3,519.8 L261.3,519.6 L262.3,519.4 L263.3,519.3 L264.3,519.7 L265.3,519.3 L266.3,520.1 L267.3,520.2 L268.3,520.7 L269.3,520.1 L270.3,519.7 L271.3,519.6 L272.3,518.9 L273.3,519.7 L274.3,519.9 L275.3,520.2 L276.3,520.1 L277.3,520.0 L278.3,519.8 L279.3,519.7 L280.3,519.6 L281.3,518.3 L282.3,517.8 L283.3,516.7 L284.3,516.6 L285.3,515.5 L286.3,514.4 L286.7,513.4 L287.3,513.4 L288.3,512.5 L289.3,511.8 L290.3,511.0 L291.3,510.4 L292.3,509.1 L293.3,508.5 L294.3,507.4 L295.3,506.4 L296.3,505.8 L297.3,505.4 L297.4,505.8 L298.3,505.4 L299.3,505.6 L300.3,505.6 L301.3,505.4 L302.3,506.1 L303.3,505.4 L304.3,505.7 L305.3,505.5 L306.3,505.0 L307.3,505.8 L307.5,506.2 L308.3,507.0 L309.3,508.6 L310.3,511.1 L311.3,512.9 L312.3,515.1 L313.3,516.5 L314.3,518.1 L315.3,518.7 L316.3,519.6 L317.3,520.2 L318.3,520.3 L319.3,520.3 L320.3,520.1 L321.3,520.6 L322.3,520.6 L323.3,520.5 L324.3,520.3 L325.3,520.7 L326.3,521.3 L327.3,520.5 L328.3,520.7 L329.3,520.7 L330.3,519.9 L331.3,520.7 L332.3,520.4 L333.3,521.1 L334.3,520.6 L335.3,520.4 L336.3,520.6 L337.3,520.7 L338.3,520.5 L339.3,520.7 L340.3,520.3 L341.3,520.7 L342.3,521.0 L343.3,521.3 L344.3,521.0 L345.3,520.8 L346.3,521.1 L347.3,521.1 L348.3,521.3 L349.3,521.1 L350.3,520.8 L351.3,520.9 L352.3,520.9 L353.3,520.9 L354.3,520.9 L355.3,520.6 L356.3,520.2 L357.3,520.7 L358.3,520.3 L359.3,520.9 L360.3,520.9 L361.3,520.4 L362.3,521.1 L363.3,521.2 L364.3,520.9 L365.3,521.4 L366.3,521.5 L367.3,520.6 L368.3,521.2 L369.3,521.1 L370.3,521.1 L371.3,521.2 L372.3,520.7 L373.3,520.8 L374.3,520.7 L375.3,520.7 L376.3,520.9 L377.3,520.5 L378.3,520.7 L379.3,521.2 L380.3,521.0 L381.3,521.1 L382.3,520.4 L383.3,520.7 L384.3,520.8 L385.3,521.0 L386.3,520.8 L387.3,521.3 L388.3,521.0 L389.3,521.0 L390.3,521.0 L391.3,521.2 L392.3,520.8 L393.3,521.3 L394.3,521.1 L395.3,521.0 L396.3,520.9 L397.3,521.1 L398.3,521.2 L399.3,521.1 L400.3,520.9 L401.3,521.1 L402.3,520.8 L403.3,521.1 L404.3,520.6 L405.3,519.9 L406.3,520.9 L407.3,520.4 L408.3,519.9 L409.3,520.0 L410.3,519.5 L411.3,520.1 L412.3,519.2 L413.3,518.0 L414.3,517.6 L415.3,515.4 L416.3,512.3 L417.3,504.0 L418.3,491.3 L419.3,476.5 L420.3,466.0 L420.5,465.6 L421.3,470.5 L422.3,486.2 L423.3,500.6 L424.3,508.8 L425.3,514.8 L426.3,516.7 L427.3,518.9 L428.3,519.0 L429.3,519.4 L430.3,520.1 L431.3,520.2 L432.3,520.1 L433.3,520.6 L434.3,520.4 L435.3,520.1 L436.3,521.4 L437.3,520.7 L438.3,520.7 L439.3,521.1 L440.3,520.5 L441.3,520.6 L442.3,520.9 L443.3,520.9 L444.3,521.2 L445.3,521.5 L446.3,521.0 L447.3,521.3 L448.3,521.4 L449.3,520.9 L450.3,521.3 L451.3,521.0 L452.3,521.6 L453.3,521.4 L454.3,521.3 L455.3,520.9 L456.3,521.3 L457.3,521.1 L458.3,521.5 L459.3,521.3 L460.3,521.1 L461.3,521.6 L462.3,521.5 L463.3,521.1 L464.3,521.6 L465.3,521.2 L466.3,521.2 L467.3,521.3 L468.3,521.0 L469.3,521.1 L470.3,521.2 L471.3,521.7 L472.3,521.6 L473.3,521.1 L474.3,521.6 L475.3,521.0 L476.3,521.1 L477.3,521.2 L478.3,520.9 L479.3,521.3 L480.3,520.4 L481.3,519.7 L482.3,519.9 L483.3,518.8 L484.3,518.1 L485.3,516.3 L486.3,516.4 L487.3,515.1 L488.3,513.8 L489.3,512.7 L490.3,512.1 L491.3,511.1 L491.6,511.3 L492.3,510.9 L493.3,511.6 L494.3,512.8 L495.3,513.7 L496.3,514.2 L497.3,515.5 L498.3,515.9 L499.3,515.6 L500.3,514.9 L501.3,511.8 L502.3,506.7 L503.3,500.9 L504.3,497.3 L504.6,496.0 L505.3,498.0 L506.3,503.9 L507.3,510.1 L508.3,514.1 L509.3,517.3 L510.3,518.9 L511.3,519.9 L512.3,519.9 L513.3,520.1 L514.3,521.0 L515.3,521.2 L516.3,521.1 L517.3,520.9 L518.3,521.3 L519.3,521.2 L520.3,521.5 L521.3,520.9 L522.3,521.4 L523.3,521.3 L524.3,521.1 L525.3,521.5 L526.3,521.5 L527.3,521.4 L528.3,521.6 L529.3,521.1 L530.3,521.5 L531.3,521.7 L532.3,521.7 L533.3,521.9 L534.3,521.3 L535.3,521.2 L536.3,521.7 L537.3,521.8 L538.3,522.3 L539.3,521.8 L540.3,521.4 L541.3,521.9 L542.3,521.4 L543.3,521.2 L544.3,522.5 L545.3,521.8 L546.3,521.9 L547.3,521.9 L548.3,522.2 L549.3,521.8 L550.3,522.1 L551.3,521.4 L552.3,521.3 L553.3,522.1 L554.3,522.1 L555.3,521.8 L556.3,521.8 L557.3,521.7 L558.3,521.5 L559.3,522.1 L560.3,521.9 L561.3,521.8 L562.3,521.8 L563.3,522.0 L564.3,521.8 L565.3,521.9 L566.3,521.3 L567.3,521.8 L568.3,522.2 L569.3,521.4 L570.3,521.5 L571.3,521.8 L572.3,521.8 L573.3,521.6 L574.3,520.9 L575.3,521.5 L576.3,521.0 L577.3,521.0 L578.3,521.4 L579.3,521.0 L580.3,521.3 L581.3,521.8 L582.3,521.0 L583.3,520.8 L584.3,520.0 L585.3,519.8 L586.3,519.2 L587.3,518.8 L588.3,517.9 L589.3,517.1 L590.3,516.1 L591.3,514.5 L592.3,512.9 L593.3,511.6 L594.3,511.4 L594.7,511.2 L595.3,511.6 L596.3,512.5 L597.3,513.4 L598.3,515.2 L599.3,515.9 L600.3,518.2 L601.3,518.7 L602.3,519.0 L603.3,519.3 L604.3,520.2 L605.3,519.8 L606.3,520.4 L607.3,521.0 L608.3,521.0 L609.3,520.9 L610.3,521.5 L611.3,521.0 L612.3,521.4 L613.3,521.3 L614.3,521.2 L615.3,521.7 L616.3,521.3 L617.3,522.2 L618.3,521.4 L619.3,522.2 L620.3,521.3 L621.3,521.9 L622.3,521.4 L623.3,521.3 L624.3,521.8 L625.3,522.0 L626.3,521.4 L627.3,522.1 L628.3,521.6 L629.3,521.9 L630.3,521.9 L631.3,522.0 L632.3,521.3 L633.3,522.3 L634.3,522.0 L635.3,521.7 L636.3,521.6 L637.3,521.4 L638.3,521.5 L639.3,522.0 L640.3,521.8 L641.3,521.5 L642.3,521.7 L643.3,522.3 L644.3,521.8 L645.3,521.7 L646.3,522.3 L647.3,522.0 L648.3,521.9 L649.3,521.6 L650.3,521.3 L651.3,521.4 L652.3,521.6 L653.3,521.7 L654.3,521.8 L655.3,521.8 L656.3,521.6 L657.3,521.4 L658.3,520.9 L659.3,520.3 L660.3,520.5 L661.3,520.1 L662.3,519.9 L663.3,519.6 L664.3,519.0 L665.3,518.7 L666.3,518.8 L667.3,518.7 L667.5,518.5 L668.3,518.9 L669.3,518.8 L670.3,518.8 L671.3,519.5 L672.3,520.3 L673.3,519.9 L674.3,520.7 L675.3,520.9 L676.3,521.1 L677.3,520.4 L678.3,521.0 L679.3,519.8 L680.3,518.7 L681.3,517.0 L682.3,515.3 L683.3,513.5 L683.9,513.2 L684.3,513.8 L685.3,514.8 L686.3,516.7 L687.3,519.0 L688.3,520.2 L689.3,521.1 L690.3,520.8 L691.3,521.7 L692.3,521.7 L693.3,522.2 L694.3,521.3 L695.3,521.8 L696.3,521.7 L697.3,521.3 L698.3,521.6 L699.3,522.2 L700.3,521.7 L701.3,521.7 L702.3,522.2 L703.3,522.2 L704.3,522.2 L705.3,521.7 L706.3,521.9 L707.3,522.3 L708.3,521.8 L709.3,521.7 L710.3,522.2 L711.3,522.4 L712.3,521.6 L713.3,521.2 L714.3,521.5 L715.3,521.6 L716.3,521.9 L717.3,522.1 L718.3,521.9 L719.3,521.7 L720.3,522.0 L721.3,521.6 L722.3,521.9 L723.3,521.7 L724.3,522.6 L725.3,522.0 L726.3,521.5 L727.3,521.4 L728.3,521.5 L729.3,521.0 L730.3,521.1 L731.3,520.9 L732.3,521.2 L733.3,520.4 L734.3,519.9 L735.3,519.2 L736.3,518.7 L737.3,518.4 L738.3,517.6 L739.3,517.4 L740.3,516.3 L741.3,516.4 L742.2,516.0 L742.3,515.9 L743.3,515.4 L744.3,515.9 L745.3,516.9 L746.3,517.5 L747.3,517.4 L748.3,517.7 L749.3,517.3 L750.3,517.1 L751.3,516.8 L752.3,517.2 L752.9,517.1 L753.3,517.1 L754.3,517.6 L755.3,518.6 L756.3,519.3 L757.3,519.7 L758.3,521.0 L759.3,521.1 L760.3,521.3 L761.3,522.0 L762.3,522.0 L763.3,521.7 L764.3,522.0 L765.3,521.5 L766.3,521.7 L767.3,521.2 L768.3,522.3 L769.3,521.4 L770.3,522.2 L771.3,521.8 L772.3,521.7 L773.3,522.0 L774.3,522.1 L775.3,522.2 L776.3,522.6 L777.3,522.2 L778.3,522.3 L779.3,521.9 L780.3,522.3 L781.3,522.1 L782.3,522.0 L783.3,522.1 L784.3,522.1 L785.3,522.2 L786.3,522.2 L787.3,522.0 L788.3,521.9 L789.3,522.4 L790.3,521.6 L791.3,522.0 L792.3,522.6 L793.3,521.3 L794.3,521.9 L795.3,522.4 L796.3,521.7 L797.3,522.9 L798.3,521.4 L799.3,522.6 L800.3,522.6" fill="none" stroke="#02F512" stroke-width="5.3" stroke-linejoin="round" stroke-linecap="butt"/>
<path d="M88.3,641.7 L89.3,641.4 L90.3,641.6 L91.3,641.3 L92.3,641.8 L93.3,641.3 L94.3,641.6 L95.3,642.0 L96.3,641.4 L97.3,641.7 L98.3,641.9 L99.3,641.4 L100.3,642.2 L101.3,642.0 L102.3,641.5 L103.3,642.0 L104.3,641.8 L105.3,641.8 L106.3,642.1 L107.3,641.9 L108.3,642.4 L109.3,641.9 L110.3,642.5 L111.3,642.2 L112.3,642.5 L113.3,642.1 L114.3,642.1 L115.3,641.9 L116.3,642.4 L117.3,642.5 L118.3,642.9 L119.3,642.7 L120.3,642.3 L121.3,642.2 L122.3,642.4 L123.3,642.2 L124.3,642.6 L125.3,642.4 L126.3,641.9 L127.3,641.8 L128.3,642.4 L129.3,642.0 L130.3,641.7 L131.3,642.0 L132.3,641.4 L133.3,641.3 L134.3,641.0 L135.3,640.3 L136.3,640.8 L137.3,639.8 L138.3,639.5 L139.3,638.9 L140.3,638.6 L141.3,637.3 L142.3,636.0 L143.3,633.5 L144.3,630.9 L145.3,625.4 L146.3,617.4 L147.3,603.8 L148.3,583.9 L149.3,559.3 L150.3,533.0 L151.3,517.5 L151.6,516.6 L152.3,522.6 L153.3,545.3 L154.3,571.9 L155.3,594.1 L156.3,611.6 L157.3,622.5 L158.3,629.4 L159.3,633.3 L160.3,635.3 L161.3,637.0 L162.3,639.1 L163.3,639.6 L164.3,639.8 L165.3,641.0 L166.3,641.2 L167.3,641.2 L168.3,641.4 L169.3,641.9 L170.3,642.8 L171.3,642.9 L172.3,643.0 L173.3,643.4 L174.3,643.6 L175.3,642.9 L176.3,643.6 L177.3,643.6 L178.3,643.5 L179.3,643.9 L180.3,644.1 L181.3,644.1 L182.3,643.8 L183.3,644.2 L184.3,645.0 L185.3,644.2 L186.3,644.0 L187.3,644.7 L188.3,644.8 L189.3,644.9 L190.3,644.4 L191.3,645.1 L192.3,644.6 L193.3,644.6 L194.3,644.8 L195.3,645.0 L196.3,645.2 L197.3,645.3 L198.3,645.1 L199.3,645.4 L200.3,645.2 L201.3,645.5 L202.3,644.8 L203.3,644.8 L204.3,645.6 L205.3,644.9 L206.3,645.3 L207.3,645.4 L208.3,645.3 L209.3,645.4 L210.3,645.9 L211.3,644.8 L212.3,645.8 L213.3,646.3 L214.3,645.6 L215.3,645.7 L216.3,645.9 L217.3,646.3 L218.3,645.4 L219.3,645.8 L220.3,645.7 L221.3,646.0 L222.3,645.9 L223.3,646.1 L224.3,645.8 L225.3,645.9 L226.3,645.7 L227.3,645.8 L228.3,645.9 L229.3,646.0 L230.3,645.7 L231.3,646.5 L232.3,646.0 L233.3,645.7 L234.3,646.5 L235.3,645.9 L236.3,646.3 L237.3,646.2 L238.3,646.3 L239.3,646.3 L240.3,646.1 L241.3,646.3 L242.3,646.9 L243.3,645.6 L244.3,646.3 L245.3,646.5 L246.3,646.1 L247.3,646.0 L248.3,647.1 L249.3,646.3 L250.3,647.1 L251.3,646.6 L252.3,646.5 L253.3,646.6 L254.3,646.7 L255.3,646.9 L256.3,646.7 L257.3,646.6 L258.3,646.6 L259.3,647.0 L260.3,646.9 L261.3,646.3 L262.3,646.5 L263.3,646.8 L264.3,646.5 L265.3,646.6 L266.3,646.4 L267.3,646.7 L268.3,646.9 L269.3,647.1 L270.3,646.8 L271.3,647.4 L272.3,646.8 L273.3,647.8 L274.3,647.1 L275.3,647.0 L276.3,646.7 L277.3,645.9 L278.3,646.6 L279.3,646.6 L280.3,646.8 L281.3,645.3 L282.3,645.7 L283.3,644.3 L284.3,643.8 L285.3,641.9 L286.3,641.9 L286.7,641.4 L287.3,641.3 L288.3,640.5 L289.3,639.5 L290.3,639.5 L291.3,638.6 L292.3,637.8 L293.3,637.1 L294.3,636.3 L295.3,635.2 L296.3,634.3 L297.3,634.0 L297.4,634.8 L298.3,634.5 L299.3,634.4 L300.3,634.4 L301.3,634.7 L302.3,634.7 L303.3,634.4 L304.3,634.1 L305.3,634.9 L306.3,634.5 L307.3,634.7 L307.5,634.7 L308.3,635.7 L309.3,637.6 L310.3,639.3 L311.3,640.8 L312.3,642.6 L313.3,644.0 L314.3,644.9 L315.3,646.5 L316.3,646.8 L317.3,647.8 L318.3,647.0 L319.3,647.3 L320.3,647.7 L321.3,647.4 L322.3,647.1 L323.3,647.2 L324.3,647.5 L325.3,647.6 L326.3,647.5 L327.3,647.8 L328.3,647.9 L329.3,647.7 L330.3,647.6 L331.3,647.5 L332.3,647.8 L333.3,647.9 L334.3,647.6 L335.3,647.8 L336.3,647.5 L337.3,647.2 L338.3,647.4 L339.3,647.9 L340.3,647.8 L341.3,648.2 L342.3,647.7 L343.3,648.0 L344.3,648.1 L345.3,648.0 L346.3,647.5 L347.3,647.7 L348.3,647.8 L349.3,647.5 L350.3,647.9 L351.3,648.1 L352.3,647.6 L353.3,648.4 L354.3,647.7 L355.3,647.7 L356.3,647.7 L357.3,647.6 L358.3,648.0 L359.3,647.8 L360.3,648.3 L361.3,648.0 L362.3,648.0 L363.3,647.8 L364.3,647.4 L365.3,647.8 L366.3,647.6 L367.3,648.2 L368.3,647.9 L369.3,648.4 L370.3,648.1 L371.3,648.2 L372.3,648.0 L373.3,648.0 L374.3,648.1 L375.3,648.2 L376.3,647.7 L377.3,648.1 L378.3,648.7 L379.3,647.9 L380.3,647.9 L381.3,647.7 L382.3,647.5 L383.3,648.3 L384.3,648.0 L385.3,648.0 L386.3,648.5 L387.3,648.7 L388.3,647.7 L389.3,648.3 L390.3,648.1 L391.3,648.1 L392.3,648.1 L393.3,647.9 L394.3,648.4 L395.3,648.1 L396.3,648.0 L397.3,648.2 L398.3,648.1 L399.3,648.0 L400.3,647.9 L401.3,648.3 L402.3,647.9 L403.3,647.6 L404.3,647.4 L405.3,647.4 L406.3,647.1 L407.3,647.4 L408.3,647.3 L409.3,646.4 L410.3,646.8 L411.3,646.7 L412.3,646.1 L413.3,645.1 L414.3,644.8 L415.3,642.4 L416.3,638.4 L417.3,631.1 L418.3,619.3 L419.3,604.2 L420.3,593.9 L420.5,593.3 L421.3,598.2 L422.3,613.2 L423.3,627.0 L424.3,636.4 L425.3,640.9 L426.3,644.0 L427.3,645.4 L428.3,645.9 L429.3,646.5 L430.3,646.5 L431.3,646.6 L432.3,647.1 L433.3,647.8 L434.3,647.8 L435.3,647.5 L436.3,648.1 L437.3,647.7 L438.3,648.3 L439.3,648.1 L440.3,647.8 L441.3,648.2 L442.3,647.8 L443.3,647.8 L444.3,647.7 L445.3,648.2 L446.3,648.1 L447.3,648.1 L448.3,648.1 L449.3,648.6 L450.3,648.1 L451.3,648.0 L452.3,648.6 L453.3,648.7 L454.3,648.3 L455.3,647.7 L456.3,648.1 L457.3,648.4 L458.3,648.3 L459.3,648.7 L460.3,647.9 L461.3,648.5 L462.3,648.1 L463.3,648.6 L464.3,648.2 L465.3,648.5 L466.3,648.0 L467.3,647.8 L468.3,647.9 L469.3,648.0 L470.3,647.9 L471.3,648.5 L472.3,648.5 L473.3,648.2 L474.3,647.7 L475.3,647.9 L476.3,647.7 L477.3,648.2 L478.3,647.7 L479.3,647.6 L480.3,647.1 L481.3,646.2 L482.3,646.0 L483.3,645.2 L484.3,644.8 L485.3,643.6 L486.3,642.1 L487.3,640.8 L488.3,640.0 L489.3,637.9 L490.3,636.9 L491.3,636.6 L491.6,636.4 L492.3,636.6 L493.3,637.5 L494.3,638.9 L495.3,639.0 L496.3,640.7 L497.3,641.7 L498.3,642.4 L499.3,642.4 L500.3,641.3 L501.3,638.9 L502.3,633.7 L503.3,627.8 L504.3,623.4 L504.6,623.1 L505.3,624.5 L506.3,630.7 L507.3,636.7 L508.3,641.4 L509.3,644.2 L510.3,645.5 L511.3,646.4 L512.3,646.8 L513.3,647.4 L514.3,647.4 L515.3,647.5 L516.3,648.0 L517.3,648.2 L518.3,647.6 L519.3,648.7 L520.3,648.2 L521.3,648.2 L522.3,648.6 L523.3,648.4 L524.3,648.2 L525.3,649.1 L526.3,648.1 L527.3,648.4 L528.3,648.7 L529.3,648.2 L530.3,648.5 L531.3,648.7 L532.3,649.3 L533.3,648.3 L534.3,648.6 L535.3,648.8 L536.3,648.6 L537.3,648.3 L538.3,648.7 L539.3,648.7 L540.3,648.8 L541.3,649.0 L542.3,649.0 L543.3,648.8 L544.3,648.7 L545.3,648.3 L546.3,648.6 L547.3,648.7 L548.3,648.5 L549.3,648.7 L550.3,648.4 L551.3,649.1 L552.3,649.3 L553.3,648.6 L554.3,648.8 L555.3,648.6 L556.3,649.0 L557.3,648.8 L558.3,648.7 L559.3,648.6 L560.3,648.7 L561.3,648.3 L562.3,648.8 L563.3,648.4 L564.3,648.8 L565.3,648.6 L566.3,648.9 L567.3,648.6 L568.3,648.9 L569.3,648.3 L570.3,648.7 L571.3,648.4 L572.3,648.5 L573.3,648.4 L574.3,648.7 L575.3,647.7 L576.3,648.4 L577.3,647.8 L578.3,648.5 L579.3,647.5 L580.3,647.6 L581.3,647.3 L582.3,648.1 L583.3,647.0 L584.3,647.2 L585.3,646.6 L586.3,645.8 L587.3,645.6 L588.3,645.1 L589.3,643.9 L590.3,643.0 L591.3,641.1 L592.3,639.7 L593.3,638.1 L594.3,637.5 L594.7,637.9 L595.3,637.6 L596.3,638.5 L597.3,639.7 L598.3,641.3 L599.3,643.4 L600.3,643.8 L601.3,644.8 L602.3,645.8 L603.3,646.3 L604.3,647.5 L605.3,646.5 L606.3,647.6 L607.3,647.9 L608.3,647.5 L609.3,647.8 L610.3,648.3 L611.3,648.7 L612.3,648.0 L613.3,647.9 L614.3,648.7 L615.3,648.9 L616.3,648.4 L617.3,647.9 L618.3,649.0 L619.3,648.6 L620.3,649.0 L621.3,648.7 L622.3,648.6 L623.3,648.6 L624.3,649.2 L625.3,649.2 L626.3,648.1 L627.3,648.5 L628.3,649.3 L629.3,648.7 L630.3,648.4 L631.3,648.8 L632.3,648.8 L633.3,648.8 L634.3,648.7 L635.3,648.7 L636.3,648.7 L637.3,648.9 L638.3,648.6 L639.3,648.8 L640.3,648.8 L641.3,649.2 L642.3,649.0 L643.3,648.8 L644.3,649.0 L645.3,649.0 L646.3,649.2 L647.3,649.0 L648.3,649.4 L649.3,649.2 L650.3,648.8 L651.3,648.6 L652.3,649.0 L653.3,648.9 L654.3,648.6 L655.3,648.1 L656.3,647.9 L657.3,648.4 L658.3,648.4 L659.3,648.1 L660.3,647.2 L661.3,647.6 L662.3,646.7 L663.3,646.6 L664.3,646.2 L665.3,645.5 L666.3,645.4 L667.3,644.8 L667.5,645.1 L668.3,644.9 L669.3,645.8 L670.3,645.9 L671.3,646.5 L672.3,646.7 L673.3,646.7 L674.3,647.3 L675.3,647.3 L676.3,647.7 L677.3,647.6 L678.3,647.0 L679.3,646.6 L680.3,645.5 L681.3,643.7 L682.3,641.9 L683.3,640.5 L683.9,639.5 L684.3,639.8 L685.3,640.8 L686.3,643.7 L687.3,645.4 L688.3,646.2 L689.3,647.7 L690.3,648.3 L691.3,648.1 L692.3,648.4 L693.3,648.3 L694.3,648.9 L695.3,648.3 L696.3,648.7 L697.3,649.4 L698.3,648.8 L699.3,649.0 L700.3,648.8 L701.3,648.5 L702.3,648.9 L703.3,649.0 L704.3,648.6 L705.3,649.0 L706.3,649.3 L707.3,649.3 L708.3,648.5 L709.3,648.7 L710.3,648.5 L711.3,649.3 L712.3,649.1 L713.3,649.2 L714.3,648.7 L715.3,648.6 L716.3,649.0 L717.3,649.0 L718.3,648.7 L719.3,649.0 L720.3,649.1 L721.3,649.0 L722.3,648.6 L723.3,648.2 L724.3,648.8 L725.3,648.9 L726.3,648.7 L727.3,648.6 L728.3,648.4 L729.3,648.8 L730.3,648.4 L731.3,648.3 L732.3,647.7 L733.3,647.5 L734.3,647.3 L735.3,646.5 L736.3,645.8 L737.3,645.5 L738.3,645.3 L739.3,644.4 L740.3,644.3 L741.3,643.5 L742.2,643.3 L742.3,642.9 L743.3,643.3 L744.3,644.1 L745.3,644.1 L746.3,644.6 L747.3,644.9 L748.3,644.8 L749.3,644.7 L750.3,644.6 L751.3,644.6 L752.3,644.4 L752.9,644.5 L753.3,644.5 L754.3,644.7 L755.3,645.6 L756.3,646.1 L757.3,647.4 L758.3,647.0 L759.3,648.0 L760.3,649.1 L761.3,648.5 L762.3,648.3 L763.3,648.8 L764.3,649.2 L765.3,648.8 L766.3,649.1 L767.3,649.0 L768.3,648.8 L769.3,649.9 L770.3,649.0 L771.3,648.9 L772.3,648.9 L773.3,649.2 L774.3,649.2 L775.3,649.3 L776.3,649.1 L777.3,648.6 L778.3,649.2 L779.3,649.0 L780.3,649.0 L781.3,648.7 L782.3,648.9 L783.3,648.9 L784.3,649.1 L785.3,648.7 L786.3,649.1 L787.3,649.2 L788.3,648.8 L789.3,648.9 L790.3,648.9 L791.3,649.4 L792.3,648.4 L793.3,649.0 L794.3,648.7 L795.3,649.0 L796.3,649.4 L797.3,649.0 L798.3,649.2 L799.3,648.9 L800.3,649.7" fill="none" stroke="#000000" stroke-width="5.3" stroke-linejoin="round" stroke-linecap="butt"/>
<rect x="88.3" y="58.9" width="712.1" height="664.7" fill="none" stroke="#000" stroke-width="4.4"/>
<line x1="88.3" y1="723.6" x2="88.3" y2="736" stroke="#000" stroke-width="3.6"/>
<line x1="325.7" y1="723.6" x2="325.7" y2="736" stroke="#000" stroke-width="3.6"/>
<line x1="563.0" y1="723.6" x2="563.0" y2="736" stroke="#000" stroke-width="3.6"/>
<line x1="800.4" y1="723.6" x2="800.4" y2="736" stroke="#000" stroke-width="3.6"/>
<line x1="207.0" y1="723.6" x2="207.0" y2="729.5" stroke="#000" stroke-width="3.6"/>
<line x1="444.4" y1="723.6" x2="444.4" y2="729.5" stroke="#000" stroke-width="3.6"/>
<line x1="681.7" y1="723.6" x2="681.7" y2="729.5" stroke="#000" stroke-width="3.6"/>
<line x1="151.6" y1="723.6" x2="151.6" y2="708.8" stroke="#000" stroke-width="3.4"/>
<line x1="289.5" y1="723.6" x2="289.5" y2="712.5" stroke="#000" stroke-width="3.4"/>
<line x1="299.6" y1="723.6" x2="299.6" y2="712.5" stroke="#000" stroke-width="3.4"/>
<line x1="308.8" y1="723.6" x2="308.8" y2="712.5" stroke="#000" stroke-width="3.4"/>
<line x1="421.2" y1="723.6" x2="421.2" y2="712.5" stroke="#000" stroke-width="3.4"/>
<line x1="490.6" y1="723.6" x2="490.6" y2="712.5" stroke="#000" stroke-width="3.4"/>
<line x1="504.5" y1="723.6" x2="504.5" y2="712.5" stroke="#000" stroke-width="3.4"/>
<line x1="589.1" y1="723.6" x2="589.1" y2="712.5" stroke="#000" stroke-width="3.4"/>
<line x1="595.1" y1="723.6" x2="595.1" y2="712.5" stroke="#000" stroke-width="3.4"/>
<line x1="667.5" y1="723.6" x2="667.5" y2="712.5" stroke="#000" stroke-width="3.4"/>
<line x1="685.3" y1="723.6" x2="685.3" y2="712.5" stroke="#000" stroke-width="3.4"/>
<line x1="730.4" y1="723.6" x2="730.4" y2="712.5" stroke="#000" stroke-width="3.4"/>
<line x1="741.7" y1="723.6" x2="741.7" y2="712.5" stroke="#000" stroke-width="3.4"/>
<line x1="753.5" y1="723.6" x2="753.5" y2="712.5" stroke="#000" stroke-width="3.4"/>
<line x1="809" y1="715" x2="809" y2="723.8" stroke="#000" stroke-width="4.2" stroke-linecap="round"/>
<text transform="translate(15.60,32.40) scale(1.0034,1.0448)" font-family="'Liberation Sans', Arial, sans-serif" font-weight="bold" font-size="43" fill="#000" >A</text>
<text transform="translate(66.93,783.20) scale(0.8841,1.0188)" font-family="'Liberation Serif', 'Times New Roman', serif" font-weight="bold" font-size="48" fill="#000" >20</text>
<text transform="translate(305.14,783.20) scale(0.8644,1.0188)" font-family="'Liberation Serif', 'Times New Roman', serif" font-weight="bold" font-size="48" fill="#000" >40</text>
<text transform="translate(542.25,783.20) scale(0.8773,1.0188)" font-family="'Liberation Serif', 'Times New Roman', serif" font-weight="bold" font-size="48" fill="#000" >60</text>
<text transform="translate(779.55,783.20) scale(0.8773,1.0188)" font-family="'Liberation Serif', 'Times New Roman', serif" font-weight="bold" font-size="48" fill="#000" >80</text>
<text transform="translate(36.44,550.36) rotate(-90) scale(1.1312,0.9326)" font-family="'Liberation Serif', 'Times New Roman', serif" font-weight="bold" font-size="50" fill="#000">Intensity (a.u.)</text>
<text transform="translate(374.44,852.10) scale(0.8792,1.0079)" font-family="'Liberation Serif', 'Times New Roman', serif" font-weight="bold" font-size="57" fill="#000" >2</text>
<text transform="translate(410.20,851.74) scale(1.0000,0.9610)" font-family="'Liberation Serif', 'Times New Roman', serif" font-weight="normal" font-size="57" fill="#000" stroke="#000" stroke-width="0.9">θ</text>
<text transform="translate(448.96,852.11) scale(0.8679,0.9824)" font-family="'Liberation Serif', 'Times New Roman', serif" font-weight="bold" font-size="57" fill="#000" >(°)</text>
<text transform="translate(605.74,841.17) scale(0.7560,0.8440)" font-family="'Noto Serif CJK SC', 'Noto Sans CJK SC', serif" font-weight="bold" font-size="56" fill="#000" stroke="#000" stroke-width="0.7">*</text>
<text transform="translate(627.60,826.70) scale(0.8494,1.0000)" font-family="'Liberation Serif', 'Times New Roman', serif" font-weight="bold" font-size="38.5" fill="#000" >=Au peak</text>
<text transform="translate(294.14,177.16) scale(0.7560,0.8480)" font-family="'Noto Serif CJK SC', 'Noto Sans CJK SC', serif" font-weight="bold" font-size="56" fill="#000" stroke="#000" stroke-width="0.7">*</text>
<line x1="455.09999999999997" y1="137.1" x2="500.40000000000003" y2="137.1" stroke="#EE82EE" stroke-width="3.6" stroke-linecap="round"/>
<text transform="translate(506.00,149.90) scale(0.8278,1.0000)" font-family="'Liberation Serif', 'Times New Roman', serif" font-weight="bold" font-size="39" fill="#000" >Au/D-TiO<tspan dy="6.6">2</tspan><tspan dy="-6.6"> (200 <tspan font-size="43" dy="3.6">°</tspan><tspan dy="-3.6">C</tspan> )</tspan></text>
<line x1="455.7" y1="236.8" x2="500.6" y2="236.8" stroke="#FF0000" stroke-width="3.6" stroke-linecap="round"/>
<text transform="translate(504.90,250.20) scale(0.8270,1.0000)" font-family="'Liberation Serif', 'Times New Roman', serif" font-weight="bold" font-size="39" fill="#000" >Au/D-TiO<tspan dy="6.6">2</tspan><tspan dy="-6.6"> (150 <tspan font-size="43" dy="3.6">°</tspan><tspan dy="-3.6">C</tspan> )</tspan></text>
<line x1="456.9" y1="342.3" x2="502.0" y2="342.3" stroke="#0000FF" stroke-width="3.6" stroke-linecap="round"/>
<text transform="translate(506.00,356.30) scale(0.8264,1.0000)" font-family="'Liberation Serif', 'Times New Roman', serif" font-weight="bold" font-size="39" fill="#000" >Au/D-TiO<tspan dy="6.6">2</tspan><tspan dy="-6.6"> (100 <tspan font-size="43" dy="3.6">°</tspan><tspan dy="-3.6">C</tspan> )</tspan></text>
<line x1="458.59999999999997" y1="471.2" x2="506.90000000000003" y2="471.2" stroke="#00EE00" stroke-width="3.6" stroke-linecap="round"/>
<text transform="translate(515.70,479.20) scale(0.8372,1.0000)" font-family="'Liberation Serif', 'Times New Roman', serif" font-weight="bold" font-size="39" fill="#000" >Au/TiO<tspan dy="6.5">2</tspan></text>
<line x1="456.9" y1="595.5" x2="501.7" y2="595.5" stroke="#000000" stroke-width="3.6" stroke-linecap="round"/>
<text transform="translate(510.56,604.70) scale(0.8446,1.0000)" font-family="'Liberation Serif', 'Times New Roman', serif" font-weight="bold" font-size="39" fill="#000" >TiO<tspan dy="8.9">2</tspan></text>
<text transform="translate(138.44,693.00) scale(0.7778,1.0235)" font-family="'Liberation Serif', 'Times New Roman', serif" font-weight="bold" font-size="26" fill="#000" >101</text>
<text transform="translate(111.49,692.06) scale(0.9714,0.8208)" font-family="'Noto Serif CJK SC', 'Noto Sans CJK SC', serif" font-weight="normal" font-size="26" fill="#000" >（</text>
<text transform="translate(171.46,692.06) scale(0.9714,0.8208)" font-family="'Noto Serif CJK SC', 'Noto Sans CJK SC', serif" font-weight="normal" font-size="26" fill="#000" >）</text>
<text transform="translate(408.46,700.00) scale(0.8378,1.0176)" font-family="'Liberation Serif', 'Times New Roman', serif" font-weight="bold" font-size="26" fill="#000" >200</text>
<text transform="translate(382.49,699.07) scale(0.9714,0.8167)" font-family="'Noto Serif CJK SC', 'Noto Sans CJK SC', serif" font-weight="normal" font-size="26" fill="#000" >（</text>
<text transform="translate(442.56,699.07) scale(0.9714,0.8167)" font-family="'Noto Serif CJK SC', 'Noto Sans CJK SC', serif" font-weight="normal" font-size="26" fill="#000" >）</text>
<text transform="translate(491.15,699.60) scale(0.8457,1.0118)" font-family="'Liberation Serif', 'Times New Roman', serif" font-weight="bold" font-size="26" fill="#000" >211</text>
<text transform="translate(464.39,698.68) scale(0.9714,0.8125)" font-family="'Noto Serif CJK SC', 'Noto Sans CJK SC', serif" font-weight="normal" font-size="26" fill="#000" >（</text>
<text transform="translate(525.26,698.68) scale(0.9714,0.8125)" font-family="'Noto Serif CJK SC', 'Noto Sans CJK SC', serif" font-weight="normal" font-size="26" fill="#000" >）</text>
<text transform="translate(579.98,702.00) scale(0.8158,1.0471)" font-family="'Liberation Serif', 'Times New Roman', serif" font-weight="bold" font-size="26" fill="#000" >204</text>
<text transform="translate(553.29,701.03) scale(0.9714,0.8375)" font-family="'Noto Serif CJK SC', 'Noto Sans CJK SC', serif" font-weight="normal" font-size="26" fill="#000" >（</text>
<text transform="translate(614.06,701.03) scale(0.9714,0.8375)" font-family="'Noto Serif CJK SC', 'Noto Sans CJK SC', serif" font-weight="normal" font-size="26" fill="#000" >）</text>
<text transform="translate(659.06,703.80) scale(0.8351,1.0412)" font-family="'Liberation Serif', 'Times New Roman', serif" font-weight="bold" font-size="26" fill="#000" >220</text>
<text transform="translate(632.69,702.83) scale(0.9714,0.8333)" font-family="'Noto Serif CJK SC', 'Noto Sans CJK SC', serif" font-weight="normal" font-size="26" fill="#000" >（</text>
<text transform="translate(692.76,702.83) scale(0.9714,0.8333)" font-family="'Noto Serif CJK SC', 'Noto Sans CJK SC', serif" font-weight="normal" font-size="26" fill="#000" >）</text>
<text transform="translate(724.80,701.50) scale(0.8027,1.0471)" font-family="'Liberation Serif', 'Times New Roman', serif" font-weight="bold" font-size="26" fill="#000" >301</text>
<text transform="translate(698.99,700.53) scale(0.9714,0.8375)" font-family="'Noto Serif CJK SC', 'Noto Sans CJK SC', serif" font-weight="normal" font-size="26" fill="#000" >（</text>
<text transform="translate(758.66,700.53) scale(0.9714,0.8375)" font-family="'Noto Serif CJK SC', 'Noto Sans CJK SC', serif" font-weight="normal" font-size="26" fill="#000" >）</text>
<path d="M1000.5,473.6 L1000.9,472.9 L1001.4,471.8 L1002.1,470.6 L1002.9,469.4 L1003.9,468.6 L1005.0,468.2 L1006.4,468.4 L1008.1,469.1 L1009.9,470.1 L1011.8,471.2 L1013.7,472.2 L1015.5,473.0 L1017.2,473.6 L1018.9,474.1 L1020.7,474.5 L1022.4,474.9 L1024.1,475.3 L1025.8,475.6 L1027.5,475.8 L1029.1,476.0 L1030.8,476.1 L1032.5,476.2 L1034.3,476.4 L1036.2,476.7 L1038.3,477.2 L1040.5,477.8 L1042.8,478.5 L1045.1,479.2 L1047.4,479.7 L1049.6,480.0 L1051.7,480.0 L1053.6,479.7 L1055.5,479.2 L1057.4,478.8 L1059.6,478.4 L1062.0,478.2 L1064.8,478.3 L1068.0,478.6 L1071.3,479.0 L1074.6,479.3 L1077.8,479.6 L1080.6,479.6 L1083.0,479.4 L1085.3,479.0 L1087.3,478.6 L1089.3,478.0 L1091.1,477.4 L1093.0,476.7 L1094.7,475.9 L1096.2,475.0 L1097.6,474.0 L1099.2,473.0 L1101.0,472.2 L1103.3,471.5 L1106.2,471.1 L1109.6,471.0 L1113.3,470.9 L1117.1,470.9 L1120.7,470.8 L1124.0,470.5 L1126.9,470.0 L1129.7,469.3 L1132.4,468.5 L1134.9,467.7 L1137.3,466.9 L1139.5,466.3 L1141.6,465.7 L1143.4,465.2 L1145.2,464.7 L1146.8,464.2 L1148.3,463.9 L1149.8,463.8 L1151.1,463.8 L1152.3,463.9 L1153.4,464.2 L1154.5,464.6 L1155.7,465.1 L1157.0,465.8 L1158.5,466.8 L1160.1,468.0 L1161.9,469.4 L1163.7,470.8 L1165.5,472.1 L1167.4,473.0 L1169.2,473.6 L1170.9,474.0 L1172.7,474.3 L1174.7,474.5 L1177.1,474.5 L1180.0,474.6 L1183.8,474.6 L1188.4,474.6 L1193.4,474.5 L1198.4,474.3 L1203.0,474.1 L1206.7,473.7 L1209.4,473.1 L1211.4,472.3 L1213.0,471.3 L1214.5,470.5 L1216.1,469.9 L1218.1,469.6 L1220.6,469.8 L1223.3,470.4 L1226.2,471.1 L1229.1,472.0 L1232.1,472.8 L1235.0,473.5 L1237.8,474.0 L1240.6,474.5 L1243.4,474.9 L1246.3,475.3 L1249.4,475.7 L1252.6,476.0 L1256.2,476.4 L1260.2,476.8 L1264.3,477.1 L1268.3,477.4 L1272.1,477.6 L1275.5,477.6 L1278.3,477.3 L1280.7,476.7 L1282.8,476.1 L1284.9,475.4 L1287.0,474.8 L1289.3,474.6 L1291.8,474.8 L1294.4,475.3 L1297.1,476.0 L1299.8,476.6 L1302.6,477.0 L1305.4,476.9 L1308.3,476.2 L1311.1,475.0 L1314.0,473.6 L1317.1,472.1 L1320.3,470.8 L1323.8,470.0 L1327.8,469.7 L1332.2,469.6 L1336.8,469.8 L1341.4,470.1 L1345.5,470.4 L1349.0,470.7 L1351.7,471.1 L1353.8,471.6 L1355.6,472.1 L1357.2,472.6 L1358.7,472.9 L1360.5,473.0 L1362.2,472.7 L1363.6,472.1 L1365.1,471.3 L1366.8,470.5 L1369.0,469.9 L1372.0,469.6 L1376.0,469.6 L1380.9,469.8 L1386.2,470.2 L1391.8,470.7 L1397.3,471.4 L1402.3,472.3 L1407.0,473.6 L1411.7,475.3 L1416.2,477.2 L1420.6,479.0 L1424.6,480.5 L1428.2,481.4 L1431.3,481.5 L1433.9,481.0 L1436.3,480.1 L1438.4,479.1 L1440.5,478.4 L1442.7,478.1 L1444.9,478.4 L1447.1,479.2 L1449.1,480.1 L1451.2,481.0 L1453.4,481.7 L1455.6,482.0 L1458.0,481.7 L1460.4,481.1 L1462.9,480.2 L1465.4,479.3 L1467.8,478.6 L1470.2,478.1 L1472.4,478.0 L1474.4,478.2 L1476.5,478.6 L1478.5,478.9 L1480.7,479.0 L1483.1,478.8 L1485.7,478.1 L1488.6,477.0 L1491.5,475.8 L1494.5,474.6 L1497.7,473.7 L1500.9,473.3 L1504.3,473.5 L1507.8,474.1 L1511.5,474.9 L1515.1,475.9 L1518.6,477.0 L1521.9,478.1 L1524.9,479.3 L1527.7,480.7 L1530.4,482.1 L1533.0,483.5 L1535.5,484.6 L1538.0,485.2 L1540.4,485.4 L1542.6,485.3 L1544.7,484.8 L1546.9,484.2 L1549.1,483.3 L1551.5,482.3 L1554.1,480.8 L1556.8,478.9 L1559.6,476.7 L1562.5,474.6 L1565.2,472.9 L1567.7,471.9 L1569.9,471.8 L1571.9,472.5 L1573.8,473.6 L1575.7,474.7 L1577.9,475.4 L1580.4,475.4 L1583.5,474.4 L1587.0,472.8 L1590.7,470.8 L1594.4,468.8 L1598.0,467.1 L1601.1,466.1 L1603.7,465.9 L1606.0,466.2 L1608.0,466.9 L1610.1,467.7 L1612.4,468.4 L1615.0,469.0 L1618.1,469.3 L1621.7,469.5 L1625.4,469.6 L1629.1,469.8 L1632.6,470.1 L1635.7,470.7 L1638.4,471.6 L1640.8,472.9 L1643.0,474.3 L1645.1,475.7 L1647.3,476.8 L1649.5,477.7 L1651.9,478.1 L1654.3,478.3 L1656.7,478.2 L1659.1,478.1 L1661.4,478.1 L1663.4,478.2 L1665.2,478.7 L1666.7,479.4 L1668.1,480.2 L1669.4,480.9 L1670.9,481.2 L1672.6,481.1 L1674.4,480.3 L1676.4,479.0 L1678.4,477.4 L1680.5,475.8 L1682.8,474.2 L1685.3,473.0 L1688.2,472.1 L1691.7,471.4 L1695.3,470.8 L1698.7,470.3 L1701.6,469.9 L1703.7,469.6" fill="none" stroke="#000" stroke-width="5" stroke-linejoin="round" stroke-linecap="round"/>
<path d="M1005.2,477.7 L1006.0,478.0 L1006.9,478.3 L1008.1,478.8 L1009.4,479.3 L1010.8,479.7 L1012.3,480.2 L1013.9,480.5 L1015.5,480.8 L1017.2,481.0 L1018.9,481.1 L1020.7,481.2 L1022.6,481.2 L1024.6,481.2 L1026.6,481.1 L1028.8,481.0 L1031.0,480.8 L1033.3,480.5 L1035.6,480.1 L1037.9,479.7 L1040.4,479.2 L1043.0,478.6 L1045.7,478.1 L1048.6,477.6 L1051.7,477.2 L1055.2,476.8 L1059.0,476.5 L1063.0,476.2 L1067.2,475.8 L1071.4,475.5 L1075.4,475.2 L1079.3,474.9 L1082.7,474.6 L1085.7,474.2 L1088.5,473.8 L1091.0,473.4 L1093.3,472.9 L1095.6,472.6 L1098.0,472.2 L1100.5,472.1 L1103.3,472.0 L1106.3,472.2 L1109.5,472.5 L1112.9,473.1 L1116.2,473.6 L1119.6,474.2 L1123.0,474.7 L1126.2,475.0 L1129.2,475.1 L1132.1,474.9 L1135.0,474.5 L1137.8,474.0 L1140.5,473.4 L1143.1,472.7 L1145.5,472.1 L1147.7,471.5 L1149.8,471.0 L1151.6,470.6 L1153.1,470.1 L1154.5,469.7 L1155.6,469.3 L1156.8,469.0 L1157.8,468.7 L1159.0,468.5 L1160.2,468.4 L1161.4,468.4 L1162.6,468.4 L1163.7,468.6 L1164.9,468.8 L1166.1,469.0 L1167.4,469.3 L1168.9,469.7 L1170.5,470.0 L1172.3,470.5 L1174.1,471.1 L1176.0,471.8 L1178.0,472.5 L1180.2,473.1 L1182.7,473.7 L1185.3,474.0 L1188.3,474.1 L1191.6,473.9 L1195.4,473.3 L1199.4,472.5 L1203.6,471.6 L1207.9,470.8 L1212.2,470.0 L1216.4,469.4 L1220.4,469.1 L1224.3,469.2 L1228.3,469.5 L1232.4,470.0 L1236.3,470.6 L1240.2,471.2 L1243.8,471.8 L1247.1,472.2 L1250.0,472.5 L1252.5,472.6 L1254.7,472.6 L1256.5,472.6 L1258.2,472.5 L1259.7,472.3 L1261.1,472.1 L1262.5,471.8 L1264.0,471.5 L1265.5,471.2 L1266.8,470.9 L1268.1,470.5 L1269.3,470.1 L1270.6,469.6 L1271.9,468.9 L1273.4,468.1 L1275.0,467.0 L1276.8,465.7 L1278.8,464.4 L1280.9,462.9 L1283.1,461.2 L1285.3,459.4 L1287.6,457.2 L1289.8,454.8 L1292.0,452.0 L1294.2,448.8 L1296.5,445.3 L1298.9,441.4 L1301.3,437.3 L1303.6,433.0 L1305.8,428.6 L1307.9,424.2 L1309.8,419.7 L1311.5,415.2 L1313.1,410.6 L1314.6,405.9 L1316.0,401.1 L1317.3,396.2 L1318.5,391.2 L1319.8,386.1 L1321.1,380.9 L1322.4,375.6 L1323.7,370.1 L1324.9,364.4 L1326.1,358.7 L1327.3,352.9 L1328.5,347.1 L1329.7,341.4 L1330.8,335.7 L1331.9,330.0 L1332.9,324.3 L1334.0,318.6 L1335.0,312.9 L1335.9,307.2 L1336.9,301.6 L1337.9,296.0 L1338.9,290.5 L1339.9,285.0 L1341.0,279.3 L1342.1,273.7 L1343.1,268.1 L1344.2,262.8 L1345.1,257.6 L1346.1,252.8 L1346.9,248.5 L1347.7,244.6 L1348.3,240.9 L1349.0,237.6 L1349.5,234.6 L1350.1,231.8 L1350.6,229.3 L1351.0,227.0 L1351.5,225.0 L1351.9,223.2 L1352.3,221.7 L1352.6,220.5 L1353.0,219.6 L1353.2,218.8 L1353.5,218.2 L1353.9,217.9 L1354.2,217.6 L1354.6,217.5 L1354.9,217.6 L1355.2,217.8 L1355.6,218.3 L1356.0,218.9 L1356.4,219.8 L1356.8,220.8 L1357.2,222.0 L1357.7,223.3 L1358.1,224.7 L1358.6,226.3 L1359.1,228.1 L1359.7,230.1 L1360.2,232.5 L1360.8,235.4 L1361.5,238.8 L1362.2,242.8 L1363.0,247.2 L1363.9,252.1 L1364.7,257.4 L1365.6,263.0 L1366.4,268.8 L1367.3,274.8 L1368.0,280.8 L1368.7,287.0 L1369.3,293.5 L1370.0,300.3 L1370.5,307.2 L1371.1,314.3 L1371.7,321.4 L1372.2,328.6 L1372.8,335.7 L1373.4,342.8 L1373.9,350.0 L1374.4,357.3 L1375.0,364.6 L1375.5,371.9 L1376.0,379.3 L1376.5,386.6 L1377.0,393.9 L1377.5,401.4 L1378.0,409.1 L1378.6,417.0 L1379.1,424.8 L1379.6,432.4 L1380.1,439.6 L1380.5,446.2 L1380.9,452.0 L1381.2,456.7 L1381.5,460.4 L1381.7,463.4 L1382.0,466.1 L1382.2,468.7 L1382.4,471.7 L1382.7,475.3 L1383.1,480.0 L1383.6,486.0 L1384.2,493.0 L1384.8,500.7 L1385.5,508.8 L1386.1,516.8 L1386.8,524.4 L1387.3,531.2 L1387.8,536.9 L1388.1,541.3 L1388.4,544.8 L1388.6,547.5 L1388.7,549.8 L1388.9,552.0 L1389.0,554.2 L1389.2,556.8 L1389.5,560.0 L1389.9,563.8 L1390.3,567.8 L1390.7,572.1 L1391.1,576.6 L1391.6,581.1 L1392.1,585.7 L1392.6,590.2 L1393.0,594.6 L1393.4,598.9 L1393.8,603.3 L1394.2,607.6 L1394.6,611.9 L1395.0,616.2 L1395.4,620.6 L1395.9,624.9 L1396.4,629.2 L1397.0,633.6 L1397.6,638.2 L1398.3,642.9 L1399.0,647.5 L1399.7,652.0 L1400.4,656.3 L1401.0,660.2 L1401.6,663.7 L1402.1,666.7 L1402.6,669.3 L1403.0,671.6 L1403.4,673.6 L1403.8,675.5 L1404.2,677.3 L1404.6,679.1 L1405.0,681.0 L1405.4,683.0 L1405.9,684.9 L1406.3,686.8 L1406.7,688.7 L1407.2,690.5 L1407.6,692.1 L1408.1,693.6 L1408.5,694.9 L1408.9,696.0 L1409.4,697.0 L1409.8,697.9 L1410.3,698.6 L1410.7,699.2 L1411.1,699.6 L1411.6,699.9 L1412.0,700.0 L1412.4,699.9 L1412.8,699.7 L1413.2,699.2 L1413.5,698.7 L1413.9,697.9 L1414.3,697.1 L1414.8,696.1 L1415.4,694.9 L1416.1,693.6 L1416.8,692.0 L1417.7,690.3 L1418.5,688.4 L1419.4,686.5 L1420.2,684.5 L1421.1,682.5 L1421.8,680.5 L1422.5,678.5 L1423.1,676.4 L1423.7,674.3 L1424.3,672.1 L1424.8,669.9 L1425.4,667.8 L1425.9,665.7 L1426.5,663.7 L1427.0,661.9 L1427.5,660.4 L1428.0,659.1 L1428.5,657.7 L1429.0,656.2 L1429.5,654.3 L1430.2,652.1 L1430.9,649.2 L1431.7,645.7 L1432.6,641.6 L1433.6,637.0 L1434.6,632.1 L1435.6,627.1 L1436.7,622.0 L1437.9,617.1 L1439.0,612.3 L1440.2,607.6 L1441.4,602.9 L1442.8,598.1 L1444.1,593.3 L1445.4,588.6 L1446.7,584.0 L1448.0,579.6 L1449.2,575.4 L1450.3,571.5 L1451.3,567.8 L1452.2,564.3 L1453.2,561.0 L1454.1,557.7 L1455.1,554.4 L1456.3,551.1 L1457.5,547.7 L1458.9,544.2 L1460.4,540.6 L1462.0,536.9 L1463.7,533.3 L1465.4,529.7 L1467.1,526.3 L1468.8,523.0 L1470.4,520.0 L1471.9,517.2 L1473.4,514.7 L1474.7,512.4 L1476.1,510.2 L1477.6,508.0 L1479.2,505.9 L1481.0,503.7 L1483.1,501.4 L1485.4,498.9 L1488.0,496.3 L1490.7,493.5 L1493.6,490.8 L1496.6,488.2 L1499.6,485.8 L1502.7,483.7 L1505.7,482.0 L1508.7,480.7 L1511.8,479.7 L1514.9,479.1 L1518.0,478.6 L1521.3,478.2 L1524.6,477.9 L1528.0,477.6 L1531.5,477.2 L1535.2,476.7 L1539.1,476.3 L1543.2,475.9 L1547.3,475.6 L1551.5,475.2 L1555.5,474.9 L1559.4,474.6 L1563.1,474.2 L1566.7,473.8 L1570.2,473.3 L1573.7,472.9 L1577.0,472.4 L1580.2,472.0 L1583.2,471.6 L1585.9,471.4 L1588.4,471.3 L1590.5,471.4 L1592.1,471.5 L1593.4,471.8 L1594.6,472.1 L1595.7,472.6 L1596.9,473.1 L1598.3,473.6 L1600.0,474.2 L1602.0,475.0 L1604.2,475.9 L1606.6,477.0 L1609.0,478.2 L1611.6,479.3 L1614.2,480.2 L1616.9,480.8 L1619.6,481.1 L1622.4,481.0 L1625.4,480.5 L1628.4,479.7 L1631.5,478.8 L1634.6,477.8 L1637.7,476.9 L1640.8,476.0 L1643.8,475.4 L1646.7,475.0 L1649.6,474.6 L1652.5,474.4 L1655.4,474.1 L1658.2,473.9 L1661.1,473.7 L1663.9,473.4 L1666.8,473.0 L1669.8,472.5 L1672.8,471.9 L1675.9,471.2 L1679.0,470.5 L1682.0,469.8 L1684.9,469.2 L1687.6,468.7 L1690.0,468.4 L1692.3,468.3 L1694.4,468.3 L1696.4,468.5 L1698.3,468.7 L1700.0,469.0 L1701.5,469.2 L1702.7,469.5 L1703.7,469.6" fill="none" stroke="#F00016" stroke-width="4.5" stroke-linejoin="round" stroke-linecap="round"/>
<rect x="1004.8" y="58.2" width="699.4" height="665.4" fill="none" stroke="#000" stroke-width="4.2"/>
<line x1="1004.8" y1="723.6" x2="993.8" y2="723.6" stroke="#000" stroke-width="4"/>
<line x1="1004.8" y1="640.4" x2="993.8" y2="640.4" stroke="#000" stroke-width="4"/>
<line x1="1004.8" y1="557.2" x2="993.8" y2="557.2" stroke="#000" stroke-width="4"/>
<line x1="1004.8" y1="474.1" x2="993.8" y2="474.1" stroke="#000" stroke-width="4"/>
<line x1="1004.8" y1="390.9" x2="993.8" y2="390.9" stroke="#000" stroke-width="4"/>
<line x1="1004.8" y1="307.7" x2="993.8" y2="307.7" stroke="#000" stroke-width="4"/>
<line x1="1004.8" y1="224.6" x2="993.8" y2="224.6" stroke="#000" stroke-width="4"/>
<line x1="1004.8" y1="141.4" x2="993.8" y2="141.4" stroke="#000" stroke-width="4"/>
<line x1="1004.8" y1="58.2" x2="993.8" y2="58.2" stroke="#000" stroke-width="4"/>
<line x1="1004.8" y1="682.0" x2="999.8" y2="682.0" stroke="#000" stroke-width="3.6"/>
<line x1="1004.8" y1="598.8" x2="999.8" y2="598.8" stroke="#000" stroke-width="3.6"/>
<line x1="1004.8" y1="515.7" x2="999.8" y2="515.7" stroke="#000" stroke-width="3.6"/>
<line x1="1004.8" y1="432.5" x2="999.8" y2="432.5" stroke="#000" stroke-width="3.6"/>
<line x1="1004.8" y1="349.3" x2="999.8" y2="349.3" stroke="#000" stroke-width="3.6"/>
<line x1="1004.8" y1="266.1" x2="999.8" y2="266.1" stroke="#000" stroke-width="3.6"/>
<line x1="1004.8" y1="183.0" x2="999.8" y2="183.0" stroke="#000" stroke-width="3.6"/>
<line x1="1004.8" y1="99.8" x2="999.8" y2="99.8" stroke="#000" stroke-width="3.6"/>
<line x1="1004.8" y1="723.6" x2="1004.8" y2="735.6" stroke="#000" stroke-width="4"/>
<line x1="1144.7" y1="723.6" x2="1144.7" y2="735.6" stroke="#000" stroke-width="4"/>
<line x1="1284.6" y1="723.6" x2="1284.6" y2="735.6" stroke="#000" stroke-width="4"/>
<line x1="1424.4" y1="723.6" x2="1424.4" y2="735.6" stroke="#000" stroke-width="4"/>
<line x1="1564.3" y1="723.6" x2="1564.3" y2="735.6" stroke="#000" stroke-width="4"/>
<line x1="1704.2" y1="723.6" x2="1704.2" y2="735.6" stroke="#000" stroke-width="4"/>
<line x1="1074.7" y1="723.6" x2="1074.7" y2="729.4" stroke="#000" stroke-width="3.6"/>
<line x1="1214.6" y1="723.6" x2="1214.6" y2="729.4" stroke="#000" stroke-width="3.6"/>
<line x1="1354.5" y1="723.6" x2="1354.5" y2="729.4" stroke="#000" stroke-width="3.6"/>
<line x1="1494.4" y1="723.6" x2="1494.4" y2="729.4" stroke="#000" stroke-width="3.6"/>
<line x1="1634.3" y1="723.6" x2="1634.3" y2="729.4" stroke="#000" stroke-width="3.6"/>
<text transform="translate(870.13,32.50) scale(0.9885,1.0241)" font-family="'Liberation Sans', Arial, sans-serif" font-weight="bold" font-size="43" fill="#000" >B</text>
<text transform="translate(905.70,72.60) scale(0.8489,1.0219)" font-family="'Liberation Serif', 'Times New Roman', serif" font-weight="bold" font-size="48" fill="#000" >1000</text>
<text transform="translate(925.38,155.78) scale(0.8588,1.0219)" font-family="'Liberation Serif', 'Times New Roman', serif" font-weight="bold" font-size="48" fill="#000" >800</text>
<text transform="translate(925.38,238.95) scale(0.8588,1.0219)" font-family="'Liberation Serif', 'Times New Roman', serif" font-weight="bold" font-size="48" fill="#000" >600</text>
<text transform="translate(926.25,322.12) scale(0.8464,1.0219)" font-family="'Liberation Serif', 'Times New Roman', serif" font-weight="bold" font-size="48" fill="#000" >400</text>
<text transform="translate(925.38,405.30) scale(0.8588,1.0219)" font-family="'Liberation Serif', 'Times New Roman', serif" font-weight="bold" font-size="48" fill="#000" >200</text>
<text transform="translate(965.37,488.47) scale(0.9150,1.0219)" font-family="'Liberation Serif', 'Times New Roman', serif" font-weight="bold" font-size="48" fill="#000" >0</text>
<text transform="translate(911.79,571.65) scale(0.8571,1.0219)" font-family="'Liberation Serif', 'Times New Roman', serif" font-weight="bold" font-size="48" fill="#000" >-200</text>
<text transform="translate(911.89,654.83) scale(0.8560,1.0219)" font-family="'Liberation Serif', 'Times New Roman', serif" font-weight="bold" font-size="48" fill="#000" >-400</text>
<text transform="translate(911.89,738.00) scale(0.8560,1.0219)" font-family="'Liberation Serif', 'Times New Roman', serif" font-weight="bold" font-size="48" fill="#000" >-600</text>
<text transform="translate(969.12,782.80) scale(0.8407,1.0094)" font-family="'Liberation Serif', 'Times New Roman', serif" font-weight="bold" font-size="48" fill="#000" >2.04</text>
<text transform="translate(1109.54,782.80) scale(0.8325,1.0094)" font-family="'Liberation Serif', 'Times New Roman', serif" font-weight="bold" font-size="48" fill="#000" >2.03</text>
<text transform="translate(1248.93,782.80) scale(0.8325,1.0094)" font-family="'Liberation Serif', 'Times New Roman', serif" font-weight="bold" font-size="48" fill="#000" >2.02</text>
<text transform="translate(1389.17,782.80) scale(0.8138,1.0094)" font-family="'Liberation Serif', 'Times New Roman', serif" font-weight="bold" font-size="48" fill="#000" >2.01</text>
<text transform="translate(1529.01,782.80) scale(0.8438,1.0094)" font-family="'Liberation Serif', 'Times New Roman', serif" font-weight="bold" font-size="48" fill="#000" >2.00</text>
<text transform="translate(1668.59,782.80) scale(0.8526,1.0094)" font-family="'Liberation Serif', 'Times New Roman', serif" font-weight="bold" font-size="48" fill="#000" >1.99</text>
<text transform="translate(887.02,459.45) rotate(-90) scale(1.1247,0.9765)" font-family="'Liberation Serif', 'Times New Roman', serif" font-weight="bold" font-size="50" fill="#000">Counts</text>
<text transform="translate(1281.81,847.86) scale(0.8467,0.9615)" font-family="'Liberation Serif', 'Times New Roman', serif" font-weight="bold" font-size="57" fill="#000" >g value</text>
<line x1="1016" y1="90.3" x2="1080" y2="90.3" stroke="#000" stroke-width="4.4" stroke-linecap="round"/>
<line x1="1016" y1="147.5" x2="1080" y2="147.5" stroke="#F00016" stroke-width="4.4" stroke-linecap="round"/>
<text transform="translate(1089.40,101.90) scale(0.8378,1.0000)" font-family="'Liberation Serif', 'Times New Roman', serif" font-weight="bold" font-size="38" fill="#000" >TiO<tspan dy="8.7">2</tspan></text>
<text transform="translate(1087.50,159.20) scale(0.8237,1.0000)" font-family="'Liberation Serif', 'Times New Roman', serif" font-weight="bold" font-size="38" fill="#000" >Au/D-TiO<tspan dy="9.0">2</tspan><tspan dy="-9.0"> (150 <tspan font-size="43" dy="3.6">°</tspan><tspan dy="-3.6">C</tspan> )</tspan></text>
<text transform="translate(1438.89,193.40) scale(0.8050,1.0000)" font-family="'Liberation Serif', 'Times New Roman', serif" font-weight="bold" font-size="40" fill="#F2000F" >g =2.015</text>
<line x1="1432.6" y1="188.8" x2="1378" y2="205.2" stroke="#000" stroke-width="4"/>
<polygon points="1353.6,211.8 1378.2,195.5 1384.4,212" fill="#000"/>
</svg>
</body></html>
